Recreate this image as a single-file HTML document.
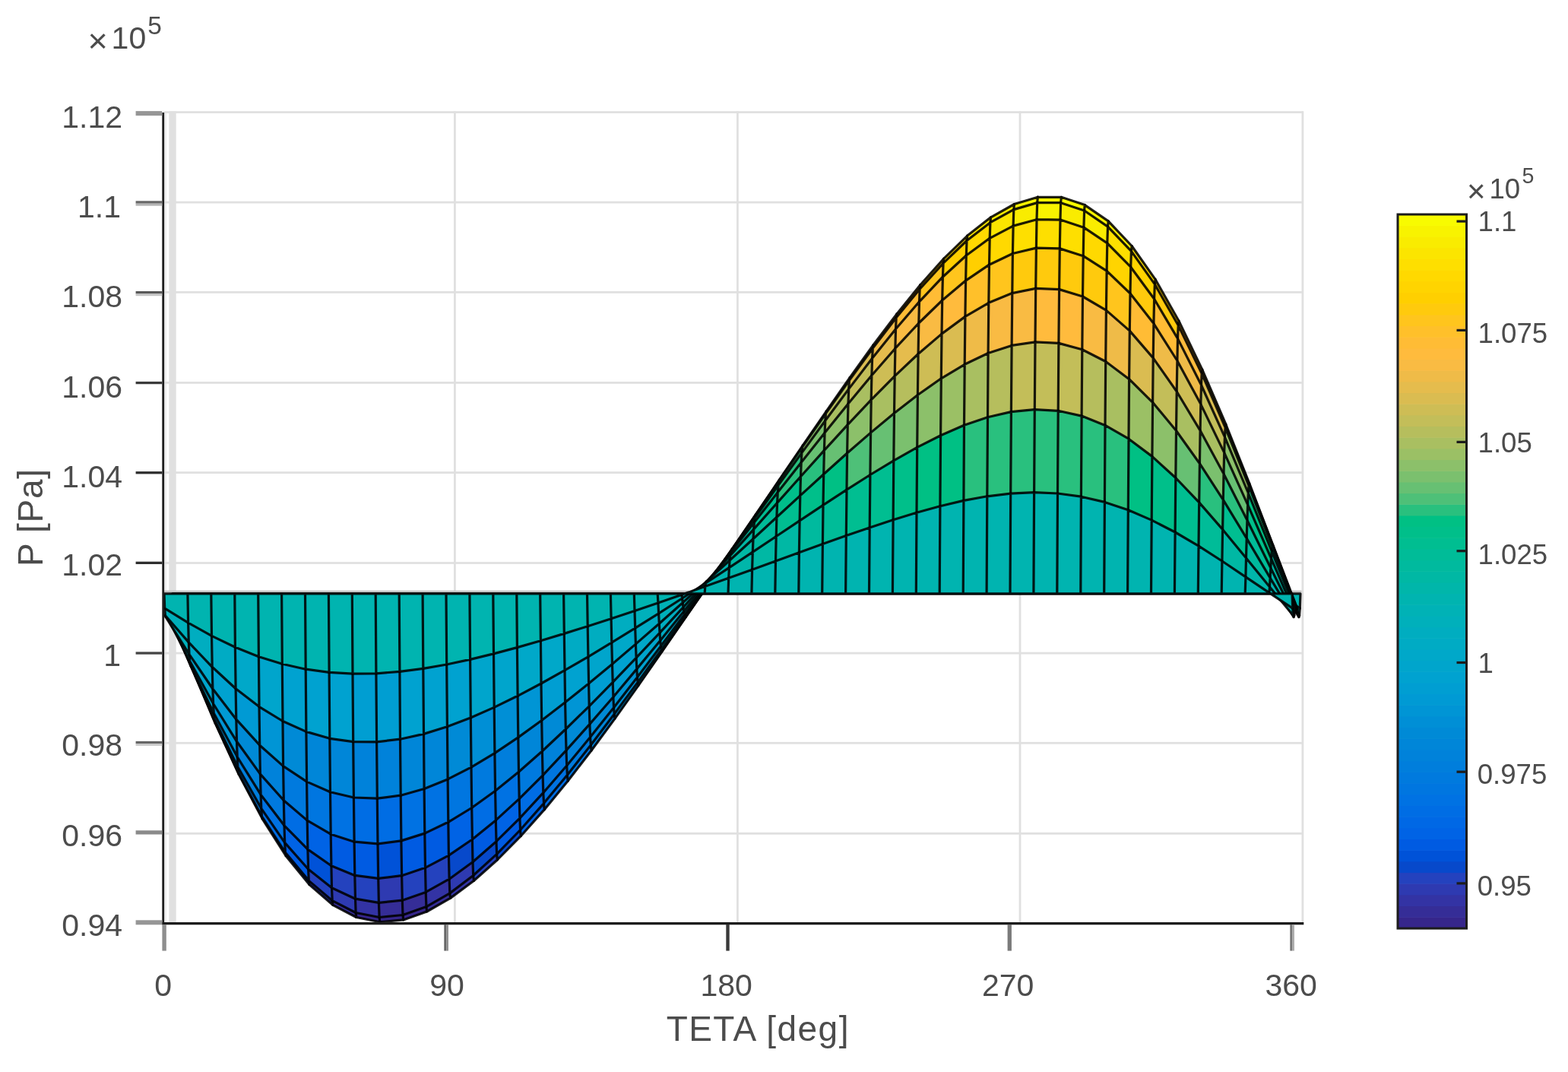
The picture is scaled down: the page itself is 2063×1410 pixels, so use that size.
<!DOCTYPE html>
<html lang="en"><head><meta charset="utf-8"><title>P [Pa] vs TETA [deg]</title>
<style>html,body{margin:0;padding:0;background:#fff}body{width:2063px;height:1410px;overflow:hidden}svg{display:block;filter:blur(0.70px)}text{font-family:"Liberation Sans",Arial,Helvetica,sans-serif;fill:#4c4c4c}</style></head><body>
<svg width="2063" height="1410" viewBox="0 0 2063 1410">
<rect width="2063" height="1410" fill="#fff"/>
<g id="grid">
<rect x="216" y="146.5" width="3" height="1066.5" fill="#ededed"/>
<rect x="222.3" y="146.5" width="9.4" height="1066.5" fill="#e0e0e0"/>
<rect x="216" y="146.2" width="1499" height="2.8" fill="#e0e0e0"/>
<rect x="216" y="264.7" width="1499" height="2.8" fill="#e0e0e0"/>
<rect x="216" y="383.0" width="1499" height="2.8" fill="#e0e0e0"/>
<rect x="216" y="502.0" width="1499" height="2.8" fill="#e0e0e0"/>
<rect x="216" y="620.2" width="1499" height="2.8" fill="#e0e0e0"/>
<rect x="216" y="739.1" width="1499" height="2.8" fill="#e0e0e0"/>
<rect x="216" y="857.7" width="1499" height="2.8" fill="#e0e0e0"/>
<rect x="216" y="975.9" width="1499" height="2.8" fill="#e0e0e0"/>
<rect x="216" y="1094.9" width="1499" height="2.8" fill="#e0e0e0"/>
<rect x="597.0" y="146.5" width="2.8" height="1066.5" fill="#e0e0e0"/>
<rect x="969.0" y="146.5" width="2.8" height="1066.5" fill="#e0e0e0"/>
<rect x="1340.6" y="146.5" width="2.8" height="1066.5" fill="#e0e0e0"/>
<rect x="1712.5" y="146.5" width="2.8" height="1066.5" fill="#e0e0e0"/>
<rect x="216" y="776.6" width="690" height="2.9" fill="#c6c6c6"/>
<rect x="1700" y="776.6" width="12.5" height="2.9" fill="#c6c6c6"/>
</g>
<g id="surf" stroke-linejoin="round" stroke-linecap="round">
<g>
<path d="M226.3 800.1 257.2 819.1 257.9 780.9 227 780.9 Z" fill="#00b0bb"/>
<path d="M257.2 819.1 288.1 836.4 288.8 780.9 257.9 780.9 Z" fill="#00adc0"/>
<path d="M288.1 836.4 319.1 851.3 319.8 780.9 288.8 780.9 Z" fill="#00abc4"/>
<path d="M319.1 851.3 350 863.7 350.7 780.9 319.8 780.9 Z" fill="#00a8c9"/>
<path d="M350 863.7 380.9 873.3 381.6 780.9 350.7 780.9 Z" fill="#00a5cc"/>
<path d="M380.9 873.3 411.8 880.2 412.5 780.9 381.6 780.9 Z" fill="#00a2d0"/>
<path d="M411.8 880.2 442.7 884.4 443.4 780.9 412.5 780.9 Z" fill="#00a2d0"/>
<path d="M442.7 884.4 473.6 886.2 474.3 780.9 443.4 780.9 Z" fill="#00a2d0"/>
<path d="M473.6 886.2 504.6 885.8 505.2 780.9 474.3 780.9 Z" fill="#009ed2"/>
<path d="M504.6 885.8 535.5 883.4 536.2 780.9 505.2 780.9 Z" fill="#009ed2"/>
<path d="M535.5 883.4 566.4 879.4 567.1 780.9 536.2 780.9 Z" fill="#00a2d0"/>
<path d="M566.4 879.4 597.3 874 598 780.9 567.1 780.9 Z" fill="#00a2d0"/>
<path d="M597.3 874 628.2 867.4 628.9 780.9 598 780.9 Z" fill="#00a2d0"/>
<path d="M628.2 867.4 659.1 859.9 659.8 780.9 628.9 780.9 Z" fill="#00a5cc"/>
<path d="M659.1 859.9 690.1 851.6 690.8 780.9 659.8 780.9 Z" fill="#00a5cc"/>
<path d="M690.1 851.6 721 842.7 721.7 780.9 690.8 780.9 Z" fill="#00a8c9"/>
<path d="M721 842.7 751.9 833.4 752.6 780.9 721.7 780.9 Z" fill="#00a8c9"/>
<path d="M751.9 833.4 782.8 823.7 783.5 780.9 752.6 780.9 Z" fill="#00abc4"/>
<path d="M782.8 823.7 813.7 813.7 814.4 780.9 783.5 780.9 Z" fill="#00adc0"/>
<path d="M813.7 813.7 844.6 803.4 845.3 780.9 814.4 780.9 Z" fill="#00adc0"/>
<path d="M844.6 803.4 875.6 792.9 876.2 780.9 845.3 780.9 Z" fill="#00b0bb"/>
<path d="M875.6 792.9 906.5 782.2 907.2 780.9 876.2 780.9 Z" fill="#00b2b6"/>
<path d="M906.5 782.2 937.4 771.3 938.1 780.9 907.2 780.9 Z" fill="#00b2b6"/>
<path d="M937.4 771.3 968.3 760.3 969 780.9 938.1 780.9 Z" fill="#00b4b0"/>
<path d="M968.3 760.3 999.2 749.2 999.9 780.9 969 780.9 Z" fill="#00b6aa"/>
<path d="M999.2 749.2 1030.1 738 1030.8 780.9 999.9 780.9 Z" fill="#00b8a4"/>
<path d="M1030.1 738 1061.1 726.8 1061.8 780.9 1030.8 780.9 Z" fill="#00b8a4"/>
<path d="M1061.1 726.8 1092 715.6 1092.7 780.9 1061.8 780.9 Z" fill="#00ba9e"/>
<path d="M1092 715.6 1122.9 704.6 1123.6 780.9 1092.7 780.9 Z" fill="#00bc98"/>
<path d="M1122.9 704.6 1153.8 693.9 1154.5 780.9 1123.6 780.9 Z" fill="#00be91"/>
<path d="M1153.8 693.9 1184.7 683.7 1185.4 780.9 1154.5 780.9 Z" fill="#00be91"/>
<path d="M1184.7 683.7 1215.6 674.2 1216.3 780.9 1185.4 780.9 Z" fill="#00bf8a"/>
<path d="M1215.6 674.2 1246.6 665.7 1247.2 780.9 1216.3 780.9 Z" fill="#00c084"/>
<path d="M1246.6 665.7 1277.5 658.4 1278.2 780.9 1247.2 780.9 Z" fill="#00c084"/>
<path d="M1277.5 658.4 1308.4 652.8 1309.1 780.9 1278.2 780.9 Z" fill="#29c07e"/>
<path d="M1308.4 652.8 1339.3 649.1 1340 780.9 1309.1 780.9 Z" fill="#29c07e"/>
<path d="M1339.3 649.1 1370.2 647.7 1370.9 780.9 1340 780.9 Z" fill="#29c07e"/>
<path d="M1370.2 647.7 1401.1 649 1401.8 780.9 1370.9 780.9 Z" fill="#29c07e"/>
<path d="M1401.1 649 1432.1 653.2 1432.8 780.9 1401.8 780.9 Z" fill="#29c07e"/>
<path d="M1432.1 653.2 1463 660.4 1463.7 780.9 1432.8 780.9 Z" fill="#29c07e"/>
<path d="M1463 660.4 1493.9 670.8 1494.6 780.9 1463.7 780.9 Z" fill="#29c07e"/>
<path d="M1493.9 670.8 1524.8 684.1 1525.5 780.9 1494.6 780.9 Z" fill="#00c084"/>
<path d="M1524.8 684.1 1555.7 700 1556.4 780.9 1525.5 780.9 Z" fill="#00bf8a"/>
<path d="M1555.7 700 1586.6 718.2 1587.3 780.9 1556.4 780.9 Z" fill="#00be91"/>
<path d="M1586.6 718.2 1617.6 738 1618.2 780.9 1587.3 780.9 Z" fill="#00bc98"/>
<path d="M1617.6 738 1648.5 758.8 1649.2 780.9 1618.2 780.9 Z" fill="#00b8a4"/>
<path d="M1648.5 758.8 1679.4 779.7 1680.1 780.9 1649.2 780.9 Z" fill="#00b6aa"/>
<path d="M1679.4 779.7 1710.3 800.1 1711 780.9 1680.1 780.9 Z" fill="#00b4b0"/>
<path d="M227 780.9 257.9 780.9 288.8 780.9 319.8 780.9 350.7 780.9 381.6 780.9 412.5 780.9 443.4 780.9 474.3 780.9 505.2 780.9 536.2 780.9 567.1 780.9 598 780.9 628.9 780.9 659.8 780.9 690.8 780.9 721.7 780.9 752.6 780.9 783.5 780.9 814.4 780.9 845.3 780.9 876.2 780.9 907.2 780.9 938.1 780.9 969 780.9 999.9 780.9 1030.8 780.9 1061.8 780.9 1092.7 780.9 1123.6 780.9 1154.5 780.9 1185.4 780.9 1216.3 780.9 1247.2 780.9 1278.2 780.9 1309.1 780.9 1340 780.9 1370.9 780.9 1401.8 780.9 1432.8 780.9 1463.7 780.9 1494.6 780.9 1525.5 780.9 1556.4 780.9 1587.3 780.9 1618.2 780.9 1649.2 780.9 1680.1 780.9 1711 780.9 M226.3 800.1 L227 780.9 M257.2 819.1 L257.9 780.9 M288.1 836.4 L288.8 780.9 M319.1 851.3 L319.8 780.9 M350 863.7 L350.7 780.9 M380.9 873.3 L381.6 780.9 M411.8 880.2 L412.5 780.9 M442.7 884.4 L443.4 780.9 M473.6 886.2 L474.3 780.9 M504.6 885.8 L505.2 780.9 M535.5 883.4 L536.2 780.9 M566.4 879.4 L567.1 780.9 M597.3 874 L598 780.9 M628.2 867.4 L628.9 780.9 M659.1 859.9 L659.8 780.9 M690.1 851.6 L690.8 780.9 M721 842.7 L721.7 780.9 M751.9 833.4 L752.6 780.9 M782.8 823.7 L783.5 780.9 M813.7 813.7 L814.4 780.9 M844.6 803.4 L845.3 780.9 M875.6 792.9 L876.2 780.9 M906.5 782.2 L907.2 780.9 M937.4 771.3 L938.1 780.9 M968.3 760.3 L969 780.9 M999.2 749.2 L999.9 780.9 M1030.1 738 L1030.8 780.9 M1061.1 726.8 L1061.8 780.9 M1092 715.6 L1092.7 780.9 M1122.9 704.6 L1123.6 780.9 M1153.8 693.9 L1154.5 780.9 M1184.7 683.7 L1185.4 780.9 M1215.6 674.2 L1216.3 780.9 M1246.6 665.7 L1247.2 780.9 M1277.5 658.4 L1278.2 780.9 M1308.4 652.8 L1309.1 780.9 M1339.3 649.1 L1340 780.9 M1370.2 647.7 L1370.9 780.9 M1401.1 649 L1401.8 780.9 M1432.1 653.2 L1432.8 780.9 M1463 660.4 L1463.7 780.9 M1493.9 670.8 L1494.6 780.9 M1524.8 684.1 L1525.5 780.9 M1555.7 700 L1556.4 780.9 M1586.6 718.2 L1587.3 780.9 M1617.6 738 L1618.2 780.9 M1648.5 758.8 L1649.2 780.9 M1679.4 779.7 L1680.1 780.9 M1710.3 800.1 L1711 780.9" fill="none" stroke="#000" stroke-opacity="0.88" stroke-width="3.2"/>
</g>
<g>
<path d="M225.6 809.5 256.5 844.9 257.2 819.1 226.3 800.1 Z" fill="#00b0bb"/>
<path d="M256.5 844.9 287.5 877.3 288.1 836.4 257.2 819.1 Z" fill="#00a8c9"/>
<path d="M287.5 877.3 318.4 905.8 319.1 851.3 288.1 836.4 Z" fill="#00a2d0"/>
<path d="M318.4 905.8 349.3 929.6 350 863.7 319.1 851.3 Z" fill="#009ad4"/>
<path d="M349.3 929.6 380.2 948.5 380.9 873.3 350 863.7 Z" fill="#0095d5"/>
<path d="M380.2 948.5 411.1 962.4 411.8 880.2 380.9 873.3 Z" fill="#008ad6"/>
<path d="M411.1 962.4 442 971.3 442.7 884.4 411.8 880.2 Z" fill="#0086d8"/>
<path d="M442 971.3 473 975.7 473.6 886.2 442.7 884.4 Z" fill="#0086d8"/>
<path d="M473 975.7 503.9 975.8 504.6 885.8 473.6 886.2 Z" fill="#0082da"/>
<path d="M503.9 975.8 534.8 972.2 535.5 883.4 504.6 885.8 Z" fill="#0082da"/>
<path d="M534.8 972.2 565.7 965.4 566.4 879.4 535.5 883.4 Z" fill="#0086d8"/>
<path d="M565.7 965.4 596.6 955.8 597.3 874 566.4 879.4 Z" fill="#0086d8"/>
<path d="M596.6 955.8 627.5 944 628.2 867.4 597.3 874 Z" fill="#008ad6"/>
<path d="M627.5 944 658.5 930.4 659.1 859.9 628.2 867.4 Z" fill="#008fd6"/>
<path d="M658.5 930.4 689.4 915.3 690.1 851.6 659.1 859.9 Z" fill="#008fd6"/>
<path d="M689.4 915.3 720.3 899 721 842.7 690.1 851.6 Z" fill="#0095d5"/>
<path d="M720.3 899 751.2 881.7 751.9 833.4 721 842.7 Z" fill="#009ed2"/>
<path d="M751.2 881.7 782.1 863.8 782.8 823.7 751.9 833.4 Z" fill="#00a2d0"/>
<path d="M782.1 863.8 813 845.2 813.7 813.7 782.8 823.7 Z" fill="#00a5cc"/>
<path d="M813 845.2 844 826.2 844.6 803.4 813.7 813.7 Z" fill="#00a8c9"/>
<path d="M844 826.2 874.9 806.8 875.6 792.9 844.6 803.4 Z" fill="#00abc4"/>
<path d="M874.9 806.8 905.8 787 906.5 782.2 875.6 792.9 Z" fill="#00b0bb"/>
<path d="M905.8 787 936.7 766.9 937.4 771.3 906.5 782.2 Z" fill="#00b2b6"/>
<path d="M936.7 766.9 967.6 746.6 968.3 760.3 937.4 771.3 Z" fill="#00b4b0"/>
<path d="M967.6 746.6 998.5 726.1 999.2 749.2 968.3 760.3 Z" fill="#00b8a4"/>
<path d="M998.5 726.1 1029.5 705.5 1030.1 738 999.2 749.2 Z" fill="#00ba9e"/>
<path d="M1029.5 705.5 1060.4 684.8 1061.1 726.8 1030.1 738 Z" fill="#00be91"/>
<path d="M1060.4 684.8 1091.3 664.3 1092 715.6 1061.1 726.8 Z" fill="#00bf8a"/>
<path d="M1091.3 664.3 1122.2 644.1 1122.9 704.6 1092 715.6 Z" fill="#00c084"/>
<path d="M1122.2 644.1 1153.1 624.5 1153.8 693.9 1122.9 704.6 Z" fill="#4ec078"/>
<path d="M1153.1 624.5 1184 605.8 1184.7 683.7 1153.8 693.9 Z" fill="#67c073"/>
<path d="M1184 605.8 1215 588.4 1215.6 674.2 1184.7 683.7 Z" fill="#7bc06e"/>
<path d="M1215 588.4 1245.9 572.7 1246.6 665.7 1215.6 674.2 Z" fill="#8cc06a"/>
<path d="M1245.9 572.7 1276.8 559.2 1277.5 658.4 1246.6 665.7 Z" fill="#9bc065"/>
<path d="M1276.8 559.2 1307.7 548.7 1308.4 652.8 1277.5 658.4 Z" fill="#a9bf61"/>
<path d="M1307.7 548.7 1338.6 541.6 1339.3 649.1 1308.4 652.8 Z" fill="#b6be5d"/>
<path d="M1338.6 541.6 1369.5 538.6 1370.2 647.7 1339.3 649.1 Z" fill="#c3be59"/>
<path d="M1369.5 538.6 1400.5 540.3 1401.1 649 1370.2 647.7 Z" fill="#c3be59"/>
<path d="M1400.5 540.3 1431.4 547.1 1432.1 653.2 1401.1 649 Z" fill="#c3be59"/>
<path d="M1431.4 547.1 1462.3 559.4 1463 660.4 1432.1 653.2 Z" fill="#b6be5d"/>
<path d="M1462.3 559.4 1493.2 577.2 1493.9 670.8 1463 660.4 Z" fill="#a9bf61"/>
<path d="M1493.2 577.2 1524.1 600.4 1524.8 684.1 1493.9 670.8 Z" fill="#9bc065"/>
<path d="M1524.1 600.4 1555 628.5 1555.7 700 1524.8 684.1 Z" fill="#8cc06a"/>
<path d="M1555 628.5 1586 660.9 1586.6 718.2 1555.7 700 Z" fill="#67c073"/>
<path d="M1586 660.9 1616.9 696.4 1617.6 738 1586.6 718.2 Z" fill="#29c07e"/>
<path d="M1616.9 696.4 1647.8 733.9 1648.5 758.8 1617.6 738 Z" fill="#00be91"/>
<path d="M1647.8 733.9 1678.7 772 1679.4 779.7 1648.5 758.8 Z" fill="#00ba9e"/>
<path d="M1678.7 772 1709.6 809.5 1710.3 800.1 1679.4 779.7 Z" fill="#00b4b0"/>
<path d="M226.3 800.1 257.2 819.1 288.1 836.4 319.1 851.3 350 863.7 380.9 873.3 411.8 880.2 442.7 884.4 473.6 886.2 504.6 885.8 535.5 883.4 566.4 879.4 597.3 874 628.2 867.4 659.1 859.9 690.1 851.6 721 842.7 751.9 833.4 782.8 823.7 813.7 813.7 844.6 803.4 875.6 792.9 906.5 782.2 937.4 771.3 968.3 760.3 999.2 749.2 1030.1 738 1061.1 726.8 1092 715.6 1122.9 704.6 1153.8 693.9 1184.7 683.7 1215.6 674.2 1246.6 665.7 1277.5 658.4 1308.4 652.8 1339.3 649.1 1370.2 647.7 1401.1 649 1432.1 653.2 1463 660.4 1493.9 670.8 1524.8 684.1 1555.7 700 1586.6 718.2 1617.6 738 1648.5 758.8 1679.4 779.7 1710.3 800.1 M225.6 809.5 L226.3 800.1 M256.5 844.9 L257.2 819.1 M287.5 877.3 L288.1 836.4 M318.4 905.8 L319.1 851.3 M349.3 929.6 L350 863.7 M380.2 948.5 L380.9 873.3 M411.1 962.4 L411.8 880.2 M442 971.3 L442.7 884.4 M473 975.7 L473.6 886.2 M503.9 975.8 L504.6 885.8 M534.8 972.2 L535.5 883.4 M565.7 965.4 L566.4 879.4 M596.6 955.8 L597.3 874 M627.5 944 L628.2 867.4 M658.5 930.4 L659.1 859.9 M689.4 915.3 L690.1 851.6 M720.3 899 L721 842.7 M751.2 881.7 L751.9 833.4 M782.1 863.8 L782.8 823.7 M813 845.2 L813.7 813.7 M844 826.2 L844.6 803.4 M874.9 806.8 L875.6 792.9 M905.8 787 L906.5 782.2 M936.7 766.9 L937.4 771.3 M967.6 746.6 L968.3 760.3 M998.5 726.1 L999.2 749.2 M1029.5 705.5 L1030.1 738 M1060.4 684.8 L1061.1 726.8 M1091.3 664.3 L1092 715.6 M1122.2 644.1 L1122.9 704.6 M1153.1 624.5 L1153.8 693.9 M1184 605.8 L1184.7 683.7 M1215 588.4 L1215.6 674.2 M1245.9 572.7 L1246.6 665.7 M1276.8 559.2 L1277.5 658.4 M1307.7 548.7 L1308.4 652.8 M1338.6 541.6 L1339.3 649.1 M1369.5 538.6 L1370.2 647.7 M1400.5 540.3 L1401.1 649 M1431.4 547.1 L1432.1 653.2 M1462.3 559.4 L1463 660.4 M1493.2 577.2 L1493.9 670.8 M1524.1 600.4 L1524.8 684.1 M1555 628.5 L1555.7 700 M1586 660.9 L1586.6 718.2 M1616.9 696.4 L1617.6 738 M1647.8 733.9 L1648.5 758.8 M1678.7 772 L1679.4 779.7 M1709.6 809.5 L1710.3 800.1" fill="none" stroke="#000" stroke-opacity="0.88" stroke-width="3.2"/>
</g>
<g>
<path d="M224.9 811.6 255.9 860.7 256.5 844.9 225.6 809.5 Z" fill="#00adc0"/>
<path d="M255.9 860.7 286.8 906 287.5 877.3 256.5 844.9 Z" fill="#00a5cc"/>
<path d="M286.8 906 317.7 946.2 318.4 905.8 287.5 877.3 Z" fill="#009ad4"/>
<path d="M317.7 946.2 348.6 980.2 349.3 929.6 318.4 905.8 Z" fill="#008ad6"/>
<path d="M348.6 980.2 379.5 1007.6 380.2 948.5 349.3 929.6 Z" fill="#0082da"/>
<path d="M379.5 1007.6 410.4 1028.1 411.1 962.4 380.2 948.5 Z" fill="#007ade"/>
<path d="M410.4 1028.1 441.4 1041.8 442 971.3 411.1 962.4 Z" fill="#0076e0"/>
<path d="M441.4 1041.8 472.3 1049 473 975.7 442 971.3 Z" fill="#0072e3"/>
<path d="M472.3 1049 503.2 1050.2 503.9 975.8 473 975.7 Z" fill="#006de4"/>
<path d="M503.2 1050.2 534.1 1046.2 534.8 972.2 503.9 975.8 Z" fill="#006de4"/>
<path d="M534.1 1046.2 565 1037.5 565.7 965.4 534.8 972.2 Z" fill="#0072e3"/>
<path d="M565 1037.5 595.9 1024.9 596.6 955.8 565.7 965.4 Z" fill="#0072e3"/>
<path d="M595.9 1024.9 626.9 1009.1 627.5 944 596.6 955.8 Z" fill="#0076e0"/>
<path d="M626.9 1009.1 657.8 990.6 658.5 930.4 627.5 944 Z" fill="#007ade"/>
<path d="M657.8 990.6 688.7 969.9 689.4 915.3 658.5 930.4 Z" fill="#007edc"/>
<path d="M688.7 969.9 719.6 947.5 720.3 899 689.4 915.3 Z" fill="#0086d8"/>
<path d="M719.6 947.5 750.5 923.8 751.2 881.7 720.3 899 Z" fill="#008ad6"/>
<path d="M750.5 923.8 781.4 899 782.1 863.8 751.2 881.7 Z" fill="#0095d5"/>
<path d="M781.4 899 812.4 873.4 813 845.2 782.1 863.8 Z" fill="#009ed2"/>
<path d="M812.4 873.4 843.3 847.1 844 826.2 813 845.2 Z" fill="#00a2d0"/>
<path d="M843.3 847.1 874.2 820.2 874.9 806.8 844 826.2 Z" fill="#00a8c9"/>
<path d="M874.2 820.2 905.1 792.8 905.8 787 874.9 806.8 Z" fill="#00adc0"/>
<path d="M905.1 792.8 936 765.1 936.7 766.9 905.8 787 Z" fill="#00b2b6"/>
<path d="M936 765.1 966.9 737 967.6 746.6 936.7 766.9 Z" fill="#00b6aa"/>
<path d="M966.9 737 997.9 708.7 998.5 726.1 967.6 746.6 Z" fill="#00b8a4"/>
<path d="M997.9 708.7 1028.8 680.3 1029.5 705.5 998.5 726.1 Z" fill="#00bc98"/>
<path d="M1028.8 680.3 1059.7 651.9 1060.4 684.8 1029.5 705.5 Z" fill="#00bf8a"/>
<path d="M1059.7 651.9 1090.6 623.7 1091.3 664.3 1060.4 684.8 Z" fill="#29c07e"/>
<path d="M1090.6 623.7 1121.5 596 1122.2 644.1 1091.3 664.3 Z" fill="#67c073"/>
<path d="M1121.5 596 1152.4 569.1 1153.1 624.5 1122.2 644.1 Z" fill="#8cc06a"/>
<path d="M1152.4 569.1 1183.4 543.4 1184 605.8 1153.1 624.5 Z" fill="#a9bf61"/>
<path d="M1183.4 543.4 1214.3 519.5 1215 588.4 1184 605.8 Z" fill="#b6be5d"/>
<path d="M1214.3 519.5 1245.2 497.8 1245.9 572.7 1215 588.4 Z" fill="#cebd55"/>
<path d="M1245.2 497.8 1276.1 479.3 1276.8 559.2 1245.9 572.7 Z" fill="#dabc51"/>
<path d="M1276.1 479.3 1307 464.5 1307.7 548.7 1276.8 559.2 Z" fill="#efbb48"/>
<path d="M1307 464.5 1337.9 454.4 1338.6 541.6 1307.7 548.7 Z" fill="#f9bb43"/>
<path d="M1337.9 454.4 1368.9 449.8 1369.5 538.6 1338.6 541.6 Z" fill="#f9bb43"/>
<path d="M1368.9 449.8 1399.8 451.4 1400.5 540.3 1369.5 538.6 Z" fill="#ffbb3d"/>
<path d="M1399.8 451.4 1430.7 459.8 1431.4 547.1 1400.5 540.3 Z" fill="#ffbb3d"/>
<path d="M1430.7 459.8 1461.6 475.5 1462.3 559.4 1431.4 547.1 Z" fill="#f9bb43"/>
<path d="M1461.6 475.5 1492.5 498.7 1493.2 577.2 1462.3 559.4 Z" fill="#efbb48"/>
<path d="M1492.5 498.7 1523.4 529.3 1524.1 600.4 1493.2 577.2 Z" fill="#dabc51"/>
<path d="M1523.4 529.3 1554.4 566.5 1555 628.5 1524.1 600.4 Z" fill="#c3be59"/>
<path d="M1554.4 566.5 1585.3 609.7 1586 660.9 1555 628.5 Z" fill="#a9bf61"/>
<path d="M1585.3 609.7 1616.2 657.4 1616.9 696.4 1586 660.9 Z" fill="#7bc06e"/>
<path d="M1616.2 657.4 1647.1 708.1 1647.8 733.9 1616.9 696.4 Z" fill="#29c07e"/>
<path d="M1647.1 708.1 1678 760.1 1678.7 772 1647.8 733.9 Z" fill="#00bc98"/>
<path d="M1678 760.1 1708.9 811.6 1709.6 809.5 1678.7 772 Z" fill="#00b6aa"/>
<path d="M225.6 809.5 256.5 844.9 287.5 877.3 318.4 905.8 349.3 929.6 380.2 948.5 411.1 962.4 442 971.3 473 975.7 503.9 975.8 534.8 972.2 565.7 965.4 596.6 955.8 627.5 944 658.5 930.4 689.4 915.3 720.3 899 751.2 881.7 782.1 863.8 813 845.2 844 826.2 874.9 806.8 905.8 787 936.7 766.9 967.6 746.6 998.5 726.1 1029.5 705.5 1060.4 684.8 1091.3 664.3 1122.2 644.1 1153.1 624.5 1184 605.8 1215 588.4 1245.9 572.7 1276.8 559.2 1307.7 548.7 1338.6 541.6 1369.5 538.6 1400.5 540.3 1431.4 547.1 1462.3 559.4 1493.2 577.2 1524.1 600.4 1555 628.5 1586 660.9 1616.9 696.4 1647.8 733.9 1678.7 772 1709.6 809.5 M224.9 811.6 L225.6 809.5 M255.9 860.7 L256.5 844.9 M286.8 906 L287.5 877.3 M317.7 946.2 L318.4 905.8 M348.6 980.2 L349.3 929.6 M379.5 1007.6 L380.2 948.5 M410.4 1028.1 L411.1 962.4 M441.4 1041.8 L442 971.3 M472.3 1049 L473 975.7 M503.2 1050.2 L503.9 975.8 M534.1 1046.2 L534.8 972.2 M565 1037.5 L565.7 965.4 M595.9 1024.9 L596.6 955.8 M626.9 1009.1 L627.5 944 M657.8 990.6 L658.5 930.4 M688.7 969.9 L689.4 915.3 M719.6 947.5 L720.3 899 M750.5 923.8 L751.2 881.7 M781.4 899 L782.1 863.8 M812.4 873.4 L813 845.2 M843.3 847.1 L844 826.2 M874.2 820.2 L874.9 806.8 M905.1 792.8 L905.8 787 M936 765.1 L936.7 766.9 M966.9 737 L967.6 746.6 M997.9 708.7 L998.5 726.1 M1028.8 680.3 L1029.5 705.5 M1059.7 651.9 L1060.4 684.8 M1090.6 623.7 L1091.3 664.3 M1121.5 596 L1122.2 644.1 M1152.4 569.1 L1153.1 624.5 M1183.4 543.4 L1184 605.8 M1214.3 519.5 L1215 588.4 M1245.2 497.8 L1245.9 572.7 M1276.1 479.3 L1276.8 559.2 M1307 464.5 L1307.7 548.7 M1337.9 454.4 L1338.6 541.6 M1368.9 449.8 L1369.5 538.6 M1399.8 451.4 L1400.5 540.3 M1430.7 459.8 L1431.4 547.1 M1461.6 475.5 L1462.3 559.4 M1492.5 498.7 L1493.2 577.2 M1523.4 529.3 L1524.1 600.4 M1554.4 566.5 L1555 628.5 M1585.3 609.7 L1586 660.9 M1616.2 657.4 L1616.9 696.4 M1647.1 708.1 L1647.8 733.9 M1678 760.1 L1678.7 772 M1708.9 811.6 L1709.6 809.5" fill="none" stroke="#000" stroke-opacity="0.88" stroke-width="3.2"/>
</g>
<g>
<path d="M224.2 809.5 255.2 869.6 255.9 860.7 224.9 811.6 Z" fill="#00b0bb"/>
<path d="M255.2 869.6 286.1 925.5 286.8 906 255.9 860.7 Z" fill="#00a5cc"/>
<path d="M286.1 925.5 317 975.3 317.7 946.2 286.8 906 Z" fill="#0095d5"/>
<path d="M317 975.3 347.9 1018.1 348.6 980.2 317.7 946.2 Z" fill="#0082da"/>
<path d="M347.9 1018.1 378.8 1052.8 379.5 1007.6 348.6 980.2 Z" fill="#007ade"/>
<path d="M378.8 1052.8 409.8 1079.1 410.4 1028.1 379.5 1007.6 Z" fill="#006de4"/>
<path d="M409.8 1079.1 440.7 1097.2 441.4 1041.8 410.4 1028.1 Z" fill="#0063e5"/>
<path d="M440.7 1097.2 471.6 1107.2 472.3 1049 441.4 1041.8 Z" fill="#005be2"/>
<path d="M471.6 1107.2 502.5 1109.9 503.2 1050.2 472.3 1049 Z" fill="#005be2"/>
<path d="M502.5 1109.9 533.4 1105.9 534.1 1046.2 503.2 1050.2 Z" fill="#0052d8"/>
<path d="M533.4 1105.9 564.3 1096.1 565 1037.5 534.1 1046.2 Z" fill="#005be2"/>
<path d="M564.3 1096.1 595.2 1081.5 595.9 1024.9 565 1037.5 Z" fill="#005be2"/>
<path d="M595.2 1081.5 626.2 1063 626.9 1009.1 595.9 1024.9 Z" fill="#0063e5"/>
<path d="M626.2 1063 657.1 1041.2 657.8 990.6 626.9 1009.1 Z" fill="#006de4"/>
<path d="M657.1 1041.2 688 1016.7 688.7 969.9 657.8 990.6 Z" fill="#0072e3"/>
<path d="M688 1016.7 718.9 989.8 719.6 947.5 688.7 969.9 Z" fill="#007ade"/>
<path d="M718.9 989.8 749.8 961 750.5 923.8 719.6 947.5 Z" fill="#0082da"/>
<path d="M749.8 961 780.8 930.6 781.4 899 750.5 923.8 Z" fill="#008ad6"/>
<path d="M780.8 930.6 811.7 898.9 812.4 873.4 781.4 899 Z" fill="#0095d5"/>
<path d="M811.7 898.9 842.6 866.2 843.3 847.1 812.4 873.4 Z" fill="#009ed2"/>
<path d="M842.6 866.2 873.5 832.8 874.2 820.2 843.3 847.1 Z" fill="#00a5cc"/>
<path d="M873.5 832.8 904.4 799 905.1 792.8 874.2 820.2 Z" fill="#00abc4"/>
<path d="M904.4 799 935.3 764.9 936 765.1 905.1 792.8 Z" fill="#00b0bb"/>
<path d="M935.3 764.9 966.2 730.6 966.9 737 936 765.1 Z" fill="#00b6aa"/>
<path d="M966.2 730.6 997.2 696.1 997.9 708.7 966.9 737 Z" fill="#00ba9e"/>
<path d="M997.2 696.1 1028.1 661.4 1028.8 680.3 997.9 708.7 Z" fill="#00be91"/>
<path d="M1028.1 661.4 1059 626.8 1059.7 651.9 1028.8 680.3 Z" fill="#29c07e"/>
<path d="M1059 626.8 1089.9 592.4 1090.6 623.7 1059.7 651.9 Z" fill="#67c073"/>
<path d="M1089.9 592.4 1120.8 558.7 1121.5 596 1090.6 623.7 Z" fill="#8cc06a"/>
<path d="M1120.8 558.7 1151.8 525.9 1152.4 569.1 1121.5 596 Z" fill="#a9bf61"/>
<path d="M1151.8 525.9 1182.7 494.7 1183.4 543.4 1152.4 569.1 Z" fill="#cebd55"/>
<path d="M1182.7 494.7 1213.6 465.5 1214.3 519.5 1183.4 543.4 Z" fill="#e5bc4d"/>
<path d="M1213.6 465.5 1244.5 439.1 1245.2 497.8 1214.3 519.5 Z" fill="#f9bb43"/>
<path d="M1244.5 439.1 1275.4 416.4 1276.1 479.3 1245.2 497.8 Z" fill="#ffbb3d"/>
<path d="M1275.4 416.4 1306.3 398.3 1307 464.5 1276.1 479.3 Z" fill="#ffc02a"/>
<path d="M1306.3 398.3 1337.2 385.6 1337.9 454.4 1307 464.5 Z" fill="#ffc51d"/>
<path d="M1337.2 385.6 1368.2 379.4 1368.9 449.8 1337.9 454.4 Z" fill="#ffca0d"/>
<path d="M1368.2 379.4 1399.1 380.6 1399.8 451.4 1368.9 449.8 Z" fill="#ffca0d"/>
<path d="M1399.1 380.6 1430 390 1430.7 459.8 1399.8 451.4 Z" fill="#ffca0d"/>
<path d="M1430 390 1460.9 408.1 1461.6 475.5 1430.7 459.8 Z" fill="#ffca0d"/>
<path d="M1460.9 408.1 1491.8 435.1 1492.5 498.7 1461.6 475.5 Z" fill="#ffc51d"/>
<path d="M1491.8 435.1 1522.8 470.9 1523.4 529.3 1492.5 498.7 Z" fill="#ffbc35"/>
<path d="M1522.8 470.9 1553.7 515 1554.4 566.5 1523.4 529.3 Z" fill="#efbb48"/>
<path d="M1553.7 515 1584.6 566.3 1585.3 609.7 1554.4 566.5 Z" fill="#cebd55"/>
<path d="M1584.6 566.3 1615.5 623.2 1616.2 657.4 1585.3 609.7 Z" fill="#a9bf61"/>
<path d="M1615.5 623.2 1646.4 684.2 1647.1 708.1 1616.2 657.4 Z" fill="#67c073"/>
<path d="M1646.4 684.2 1677.3 747 1678 760.1 1647.1 708.1 Z" fill="#00bf8a"/>
<path d="M1677.3 747 1708.2 809.5 1708.9 811.6 1678 760.1 Z" fill="#00b8a4"/>
<path d="M224.9 811.6 255.9 860.7 286.8 906 317.7 946.2 348.6 980.2 379.5 1007.6 410.4 1028.1 441.4 1041.8 472.3 1049 503.2 1050.2 534.1 1046.2 565 1037.5 595.9 1024.9 626.9 1009.1 657.8 990.6 688.7 969.9 719.6 947.5 750.5 923.8 781.4 899 812.4 873.4 843.3 847.1 874.2 820.2 905.1 792.8 936 765.1 966.9 737 997.9 708.7 1028.8 680.3 1059.7 651.9 1090.6 623.7 1121.5 596 1152.4 569.1 1183.4 543.4 1214.3 519.5 1245.2 497.8 1276.1 479.3 1307 464.5 1337.9 454.4 1368.9 449.8 1399.8 451.4 1430.7 459.8 1461.6 475.5 1492.5 498.7 1523.4 529.3 1554.4 566.5 1585.3 609.7 1616.2 657.4 1647.1 708.1 1678 760.1 1708.9 811.6 M224.2 809.5 L224.9 811.6 M255.2 869.6 L255.9 860.7 M286.1 925.5 L286.8 906 M317 975.3 L317.7 946.2 M347.9 1018.1 L348.6 980.2 M378.8 1052.8 L379.5 1007.6 M409.8 1079.1 L410.4 1028.1 M440.7 1097.2 L441.4 1041.8 M471.6 1107.2 L472.3 1049 M502.5 1109.9 L503.2 1050.2 M533.4 1105.9 L534.1 1046.2 M564.3 1096.1 L565 1037.5 M595.2 1081.5 L595.9 1024.9 M626.2 1063 L626.9 1009.1 M657.1 1041.2 L657.8 990.6 M688 1016.7 L688.7 969.9 M718.9 989.8 L719.6 947.5 M749.8 961 L750.5 923.8 M780.8 930.6 L781.4 899 M811.7 898.9 L812.4 873.4 M842.6 866.2 L843.3 847.1 M873.5 832.8 L874.2 820.2 M904.4 799 L905.1 792.8 M935.3 764.9 L936 765.1 M966.2 730.6 L966.9 737 M997.2 696.1 L997.9 708.7 M1028.1 661.4 L1028.8 680.3 M1059 626.8 L1059.7 651.9 M1089.9 592.4 L1090.6 623.7 M1120.8 558.7 L1121.5 596 M1151.8 525.9 L1152.4 569.1 M1182.7 494.7 L1183.4 543.4 M1213.6 465.5 L1214.3 519.5 M1244.5 439.1 L1245.2 497.8 M1275.4 416.4 L1276.1 479.3 M1306.3 398.3 L1307 464.5 M1337.2 385.6 L1337.9 454.4 M1368.2 379.4 L1368.9 449.8 M1399.1 380.6 L1399.8 451.4 M1430 390 L1430.7 459.8 M1460.9 408.1 L1461.6 475.5 M1491.8 435.1 L1492.5 498.7 M1522.8 470.9 L1523.4 529.3 M1553.7 515 L1554.4 566.5 M1584.6 566.3 L1585.3 609.7 M1615.5 623.2 L1616.2 657.4 M1646.4 684.2 L1647.1 708.1 M1677.3 747 L1678 760.1 M1708.2 809.5 L1708.9 811.6" fill="none" stroke="#000" stroke-opacity="0.88" stroke-width="3.2"/>
</g>
<g>
<path d="M223.6 805.6 254.5 874.1 255.2 869.6 224.2 809.5 Z" fill="#00b0bb"/>
<path d="M254.5 874.1 285.4 938.1 286.1 925.5 255.2 869.6 Z" fill="#00a2d0"/>
<path d="M285.4 938.1 316.3 995.6 317 975.3 286.1 925.5 Z" fill="#008fd6"/>
<path d="M316.3 995.6 347.2 1045.2 347.9 1018.1 317 975.3 Z" fill="#007edc"/>
<path d="M347.2 1045.2 378.1 1085.8 378.8 1052.8 347.9 1018.1 Z" fill="#0072e3"/>
<path d="M378.1 1085.8 409.1 1117.1 409.8 1079.1 378.8 1052.8 Z" fill="#0063e5"/>
<path d="M409.1 1117.1 440 1138.8 440.7 1097.2 409.8 1079.1 Z" fill="#0052d8"/>
<path d="M440 1138.8 470.9 1151.4 471.6 1107.2 440.7 1097.2 Z" fill="#2442be"/>
<path d="M470.9 1151.4 501.8 1155.4 502.5 1109.9 471.6 1107.2 Z" fill="#2442be"/>
<path d="M501.8 1155.4 532.7 1151.7 533.4 1105.9 502.5 1109.9 Z" fill="#2e3ab1"/>
<path d="M532.7 1151.7 563.6 1141.3 564.3 1096.1 533.4 1105.9 Z" fill="#2442be"/>
<path d="M563.6 1141.3 594.6 1125.4 595.2 1081.5 564.3 1096.1 Z" fill="#2442be"/>
<path d="M594.6 1125.4 625.5 1105 626.2 1063 595.2 1081.5 Z" fill="#0749cb"/>
<path d="M625.5 1105 656.4 1080.9 657.1 1041.2 626.2 1063 Z" fill="#005be2"/>
<path d="M656.4 1080.9 687.3 1053.6 688 1016.7 657.1 1041.2 Z" fill="#0063e5"/>
<path d="M687.3 1053.6 718.2 1023.5 718.9 989.8 688 1016.7 Z" fill="#006de4"/>
<path d="M718.2 1023.5 749.1 990.9 749.8 961 718.9 989.8 Z" fill="#0076e0"/>
<path d="M749.1 990.9 780.1 956.1 780.8 930.6 749.8 961 Z" fill="#0082da"/>
<path d="M780.1 956.1 811 919.7 811.7 898.9 780.8 930.6 Z" fill="#008ad6"/>
<path d="M811 919.7 841.9 881.9 842.6 866.2 811.7 898.9 Z" fill="#0095d5"/>
<path d="M841.9 881.9 872.8 843.4 873.5 832.8 842.6 866.2 Z" fill="#00a2d0"/>
<path d="M872.8 843.4 903.7 804.5 904.4 799 873.5 832.8 Z" fill="#00a8c9"/>
<path d="M903.7 804.5 934.6 765.5 935.3 764.9 904.4 799 Z" fill="#00b0bb"/>
<path d="M934.6 765.5 965.6 726.5 966.2 730.6 935.3 764.9 Z" fill="#00b6aa"/>
<path d="M965.6 726.5 996.5 687.1 997.2 696.1 966.2 730.6 Z" fill="#00ba9e"/>
<path d="M996.5 687.1 1027.4 647.6 1028.1 661.4 997.2 696.1 Z" fill="#00bf8a"/>
<path d="M1027.4 647.6 1058.3 608.3 1059 626.8 1028.1 661.4 Z" fill="#29c07e"/>
<path d="M1058.3 608.3 1089.2 569.2 1089.9 592.4 1059 626.8 Z" fill="#7bc06e"/>
<path d="M1089.2 569.2 1120.1 530.9 1120.8 558.7 1089.9 592.4 Z" fill="#a9bf61"/>
<path d="M1120.1 530.9 1151.1 493.7 1151.8 525.9 1120.8 558.7 Z" fill="#c3be59"/>
<path d="M1151.1 493.7 1182 458.2 1182.7 494.7 1151.8 525.9 Z" fill="#e5bc4d"/>
<path d="M1182 458.2 1212.9 425 1213.6 465.5 1182.7 494.7 Z" fill="#f9bb43"/>
<path d="M1212.9 425 1243.8 395 1244.5 439.1 1213.6 465.5 Z" fill="#ffbc35"/>
<path d="M1243.8 395 1274.7 369.1 1275.4 416.4 1244.5 439.1 Z" fill="#ffc51d"/>
<path d="M1274.7 369.1 1305.6 348.2 1306.3 398.3 1275.4 416.4 Z" fill="#ffcf00"/>
<path d="M1305.6 348.2 1336.6 333.5 1337.2 385.6 1306.3 398.3 Z" fill="#ffd900"/>
<path d="M1336.6 333.5 1367.5 326.1 1368.2 379.4 1337.2 385.6 Z" fill="#fedf00"/>
<path d="M1367.5 326.1 1398.4 326.9 1399.1 380.6 1368.2 379.4 Z" fill="#fedf00"/>
<path d="M1398.4 326.9 1429.3 336.7 1430 390 1399.1 380.6 Z" fill="#fedf00"/>
<path d="M1429.3 336.7 1460.2 356.4 1460.9 408.1 1430 390 Z" fill="#ffd900"/>
<path d="M1460.2 356.4 1491.1 386 1491.8 435.1 1460.9 408.1 Z" fill="#ffd400"/>
<path d="M1491.1 386 1522.1 425.6 1522.8 470.9 1491.8 435.1 Z" fill="#ffca0d"/>
<path d="M1522.1 425.6 1553 474.5 1553.7 515 1522.8 470.9 Z" fill="#ffbc35"/>
<path d="M1553 474.5 1583.9 531.6 1584.6 566.3 1553.7 515 Z" fill="#efbb48"/>
<path d="M1583.9 531.6 1614.8 595.4 1615.5 623.2 1584.6 566.3 Z" fill="#c3be59"/>
<path d="M1614.8 595.4 1645.7 663.8 1646.4 684.2 1615.5 623.2 Z" fill="#8cc06a"/>
<path d="M1645.7 663.8 1676.6 734.7 1677.3 747 1646.4 684.2 Z" fill="#00c084"/>
<path d="M1676.6 734.7 1707.6 805.6 1708.2 809.5 1677.3 747 Z" fill="#00ba9e"/>
<path d="M224.2 809.5 255.2 869.6 286.1 925.5 317 975.3 347.9 1018.1 378.8 1052.8 409.8 1079.1 440.7 1097.2 471.6 1107.2 502.5 1109.9 533.4 1105.9 564.3 1096.1 595.2 1081.5 626.2 1063 657.1 1041.2 688 1016.7 718.9 989.8 749.8 961 780.8 930.6 811.7 898.9 842.6 866.2 873.5 832.8 904.4 799 935.3 764.9 966.2 730.6 997.2 696.1 1028.1 661.4 1059 626.8 1089.9 592.4 1120.8 558.7 1151.8 525.9 1182.7 494.7 1213.6 465.5 1244.5 439.1 1275.4 416.4 1306.3 398.3 1337.2 385.6 1368.2 379.4 1399.1 380.6 1430 390 1460.9 408.1 1491.8 435.1 1522.8 470.9 1553.7 515 1584.6 566.3 1615.5 623.2 1646.4 684.2 1677.3 747 1708.2 809.5 M223.6 805.6 L224.2 809.5 M254.5 874.1 L255.2 869.6 M285.4 938.1 L286.1 925.5 M316.3 995.6 L317 975.3 M347.2 1045.2 L347.9 1018.1 M378.1 1085.8 L378.8 1052.8 M409.1 1117.1 L409.8 1079.1 M440 1138.8 L440.7 1097.2 M470.9 1151.4 L471.6 1107.2 M501.8 1155.4 L502.5 1109.9 M532.7 1151.7 L533.4 1105.9 M563.6 1141.3 L564.3 1096.1 M594.6 1125.4 L595.2 1081.5 M625.5 1105 L626.2 1063 M656.4 1080.9 L657.1 1041.2 M687.3 1053.6 L688 1016.7 M718.2 1023.5 L718.9 989.8 M749.1 990.9 L749.8 961 M780.1 956.1 L780.8 930.6 M811 919.7 L811.7 898.9 M841.9 881.9 L842.6 866.2 M872.8 843.4 L873.5 832.8 M903.7 804.5 L904.4 799 M934.6 765.5 L935.3 764.9 M965.6 726.5 L966.2 730.6 M996.5 687.1 L997.2 696.1 M1027.4 647.6 L1028.1 661.4 M1058.3 608.3 L1059 626.8 M1089.2 569.2 L1089.9 592.4 M1120.1 530.9 L1120.8 558.7 M1151.1 493.7 L1151.8 525.9 M1182 458.2 L1182.7 494.7 M1212.9 425 L1213.6 465.5 M1243.8 395 L1244.5 439.1 M1274.7 369.1 L1275.4 416.4 M1305.6 348.2 L1306.3 398.3 M1336.6 333.5 L1337.2 385.6 M1367.5 326.1 L1368.2 379.4 M1398.4 326.9 L1399.1 380.6 M1429.3 336.7 L1430 390 M1460.2 356.4 L1460.9 408.1 M1491.1 386 L1491.8 435.1 M1522.1 425.6 L1522.8 470.9 M1553 474.5 L1553.7 515 M1583.9 531.6 L1584.6 566.3 M1614.8 595.4 L1615.5 623.2 M1645.7 663.8 L1646.4 684.2 M1676.6 734.7 L1677.3 747 M1707.6 805.6 L1708.2 809.5" fill="none" stroke="#000" stroke-opacity="0.88" stroke-width="3.2"/>
</g>
<g>
<path d="M222.9 801.6 253.8 876.1 254.5 874.1 223.6 805.6 Z" fill="#00b0bb"/>
<path d="M253.8 876.1 284.7 945.8 285.4 938.1 254.5 874.1 Z" fill="#00a2d0"/>
<path d="M284.7 945.8 315.6 1008.8 316.3 995.6 285.4 938.1 Z" fill="#008ad6"/>
<path d="M315.6 1008.8 346.5 1063.4 347.2 1045.2 316.3 995.6 Z" fill="#007ade"/>
<path d="M346.5 1063.4 377.5 1108.4 378.1 1085.8 347.2 1045.2 Z" fill="#006de4"/>
<path d="M377.5 1108.4 408.4 1143.2 409.1 1117.1 378.1 1085.8 Z" fill="#005be2"/>
<path d="M408.4 1143.2 439.3 1167.7 440 1138.8 409.1 1117.1 Z" fill="#2442be"/>
<path d="M439.3 1167.7 470.2 1182.2 470.9 1151.4 440 1138.8 Z" fill="#2e3ab1"/>
<path d="M470.2 1182.2 501.1 1187.4 501.8 1155.4 470.9 1151.4 Z" fill="#3333a4"/>
<path d="M501.1 1187.4 532 1184.2 532.7 1151.7 501.8 1155.4 Z" fill="#352d97"/>
<path d="M532 1184.2 563 1173.4 563.6 1141.3 532.7 1151.7 Z" fill="#352d97"/>
<path d="M563 1173.4 593.9 1156.5 594.6 1125.4 563.6 1141.3 Z" fill="#3333a4"/>
<path d="M593.9 1156.5 624.8 1134.7 625.5 1105 594.6 1125.4 Z" fill="#2e3ab1"/>
<path d="M624.8 1134.7 655.7 1108.7 656.4 1080.9 625.5 1105 Z" fill="#0749cb"/>
<path d="M655.7 1108.7 686.6 1079.2 687.3 1053.6 656.4 1080.9 Z" fill="#005be2"/>
<path d="M686.6 1079.2 717.5 1046.5 718.2 1023.5 687.3 1053.6 Z" fill="#0068e5"/>
<path d="M717.5 1046.5 748.5 1011 749.1 990.9 718.2 1023.5 Z" fill="#0072e3"/>
<path d="M748.5 1011 779.4 973.3 780.1 956.1 749.1 990.9 Z" fill="#007ade"/>
<path d="M779.4 973.3 810.3 933.7 811 919.7 780.1 956.1 Z" fill="#0086d8"/>
<path d="M810.3 933.7 841.2 892.8 841.9 881.9 811 919.7 Z" fill="#008fd6"/>
<path d="M841.2 892.8 872.1 851 872.8 843.4 841.9 881.9 Z" fill="#009ed2"/>
<path d="M872.1 851 903 808.7 903.7 804.5 872.8 843.4 Z" fill="#00a8c9"/>
<path d="M903 808.7 934 766.4 934.6 765.5 903.7 804.5 Z" fill="#00b0bb"/>
<path d="M934 766.4 964.9 723.9 965.6 726.5 934.6 765.5 Z" fill="#00b4b0"/>
<path d="M964.9 723.9 995.8 681.2 996.5 687.1 965.6 726.5 Z" fill="#00ba9e"/>
<path d="M995.8 681.2 1026.7 638.3 1027.4 647.6 996.5 687.1 Z" fill="#00bf8a"/>
<path d="M1026.7 638.3 1057.6 595.6 1058.3 608.3 1027.4 647.6 Z" fill="#4ec078"/>
<path d="M1057.6 595.6 1088.5 553.2 1089.2 569.2 1058.3 608.3 Z" fill="#8cc06a"/>
<path d="M1088.5 553.2 1119.5 511.6 1120.1 530.9 1089.2 569.2 Z" fill="#b6be5d"/>
<path d="M1119.5 511.6 1150.4 471.3 1151.1 493.7 1120.1 530.9 Z" fill="#dabc51"/>
<path d="M1150.4 471.3 1181.3 432.8 1182 458.2 1151.1 493.7 Z" fill="#efbb48"/>
<path d="M1181.3 432.8 1212.2 396.8 1212.9 425 1182 458.2 Z" fill="#ffbc35"/>
<path d="M1212.2 396.8 1243.1 364.2 1243.8 395 1212.9 425 Z" fill="#ffc51d"/>
<path d="M1243.1 364.2 1274 336 1274.7 369.1 1243.8 395 Z" fill="#ffcf00"/>
<path d="M1274 336 1305 313.3 1305.6 348.2 1274.7 369.1 Z" fill="#ffd900"/>
<path d="M1305 313.3 1335.9 297.1 1336.6 333.5 1305.6 348.2 Z" fill="#fbe500"/>
<path d="M1335.9 297.1 1366.8 288.7 1367.5 326.1 1336.6 333.5 Z" fill="#f9ec00"/>
<path d="M1366.8 288.7 1397.7 289.1 1398.4 326.9 1367.5 326.1 Z" fill="#f8f300"/>
<path d="M1397.7 289.1 1428.6 299.2 1429.3 336.7 1398.4 326.9 Z" fill="#f9ec00"/>
<path d="M1428.6 299.2 1459.5 319.8 1460.2 356.4 1429.3 336.7 Z" fill="#f9ec00"/>
<path d="M1459.5 319.8 1490.5 351.2 1491.1 386 1460.2 356.4 Z" fill="#fedf00"/>
<path d="M1490.5 351.2 1521.4 393.3 1522.1 425.6 1491.1 386 Z" fill="#ffd400"/>
<path d="M1521.4 393.3 1552.3 445.4 1553 474.5 1522.1 425.6 Z" fill="#ffca0d"/>
<path d="M1552.3 445.4 1583.2 506.5 1583.9 531.6 1553 474.5 Z" fill="#ffbb3d"/>
<path d="M1583.2 506.5 1614.1 574.8 1614.8 595.4 1583.9 531.6 Z" fill="#dabc51"/>
<path d="M1614.1 574.8 1645 648.5 1645.7 663.8 1614.8 595.4 Z" fill="#9bc065"/>
<path d="M1645 648.5 1676 724.9 1676.6 734.7 1645.7 663.8 Z" fill="#29c07e"/>
<path d="M1676 724.9 1706.9 801.6 1707.6 805.6 1676.6 734.7 Z" fill="#00ba9e"/>
<path d="M223.6 805.6 254.5 874.1 285.4 938.1 316.3 995.6 347.2 1045.2 378.1 1085.8 409.1 1117.1 440 1138.8 470.9 1151.4 501.8 1155.4 532.7 1151.7 563.6 1141.3 594.6 1125.4 625.5 1105 656.4 1080.9 687.3 1053.6 718.2 1023.5 749.1 990.9 780.1 956.1 811 919.7 841.9 881.9 872.8 843.4 903.7 804.5 934.6 765.5 965.6 726.5 996.5 687.1 1027.4 647.6 1058.3 608.3 1089.2 569.2 1120.1 530.9 1151.1 493.7 1182 458.2 1212.9 425 1243.8 395 1274.7 369.1 1305.6 348.2 1336.6 333.5 1367.5 326.1 1398.4 326.9 1429.3 336.7 1460.2 356.4 1491.1 386 1522.1 425.6 1553 474.5 1583.9 531.6 1614.8 595.4 1645.7 663.8 1676.6 734.7 1707.6 805.6 M222.9 801.6 L223.6 805.6 M253.8 876.1 L254.5 874.1 M284.7 945.8 L285.4 938.1 M315.6 1008.8 L316.3 995.6 M346.5 1063.4 L347.2 1045.2 M377.5 1108.4 L378.1 1085.8 M408.4 1143.2 L409.1 1117.1 M439.3 1167.7 L440 1138.8 M470.2 1182.2 L470.9 1151.4 M501.1 1187.4 L501.8 1155.4 M532 1184.2 L532.7 1151.7 M563 1173.4 L563.6 1141.3 M593.9 1156.5 L594.6 1125.4 M624.8 1134.7 L625.5 1105 M655.7 1108.7 L656.4 1080.9 M686.6 1079.2 L687.3 1053.6 M717.5 1046.5 L718.2 1023.5 M748.5 1011 L749.1 990.9 M779.4 973.3 L780.1 956.1 M810.3 933.7 L811 919.7 M841.2 892.8 L841.9 881.9 M872.1 851 L872.8 843.4 M903 808.7 L903.7 804.5 M934 766.4 L934.6 765.5 M964.9 723.9 L965.6 726.5 M995.8 681.2 L996.5 687.1 M1026.7 638.3 L1027.4 647.6 M1057.6 595.6 L1058.3 608.3 M1088.5 553.2 L1089.2 569.2 M1119.5 511.6 L1120.1 530.9 M1150.4 471.3 L1151.1 493.7 M1181.3 432.8 L1182 458.2 M1212.2 396.8 L1212.9 425 M1243.1 364.2 L1243.8 395 M1274 336 L1274.7 369.1 M1305 313.3 L1305.6 348.2 M1335.9 297.1 L1336.6 333.5 M1366.8 288.7 L1367.5 326.1 M1397.7 289.1 L1398.4 326.9 M1428.6 299.2 L1429.3 336.7 M1459.5 319.8 L1460.2 356.4 M1490.5 351.2 L1491.1 386 M1521.4 393.3 L1522.1 425.6 M1552.3 445.4 L1553 474.5 M1583.2 506.5 L1583.9 531.6 M1614.1 574.8 L1614.8 595.4 M1645 648.5 L1645.7 663.8 M1676 724.9 L1676.6 734.7 M1706.9 801.6 L1707.6 805.6" fill="none" stroke="#000" stroke-opacity="0.88" stroke-width="3.2"/>
</g>
<g>
<path d="M222.2 798.8 253.1 876.7 253.8 876.1 222.9 801.6 Z" fill="#00b0bb"/>
<path d="M253.1 876.7 284 949.9 284.7 945.8 253.8 876.1 Z" fill="#00a2d0"/>
<path d="M284 949.9 314.9 1016.2 315.6 1008.8 284.7 945.8 Z" fill="#008ad6"/>
<path d="M314.9 1016.2 345.9 1073.8 346.5 1063.4 315.6 1008.8 Z" fill="#007ade"/>
<path d="M345.9 1073.8 376.8 1121.4 377.5 1108.4 346.5 1063.4 Z" fill="#0068e5"/>
<path d="M376.8 1121.4 407.7 1158.4 408.4 1143.2 377.5 1108.4 Z" fill="#0052d8"/>
<path d="M407.7 1158.4 438.6 1184.7 439.3 1167.7 408.4 1143.2 Z" fill="#2e3ab1"/>
<path d="M438.6 1184.7 469.5 1200.5 470.2 1182.2 439.3 1167.7 Z" fill="#352d97"/>
<path d="M469.5 1200.5 500.4 1206.5 501.1 1187.4 470.2 1182.2 Z" fill="#36268b"/>
<path d="M500.4 1206.5 531.4 1203.5 532 1184.2 501.1 1187.4 Z" fill="#36268b"/>
<path d="M531.4 1203.5 562.3 1192.6 563 1173.4 532 1184.2 Z" fill="#36268b"/>
<path d="M562.3 1192.6 593.2 1175.2 593.9 1156.5 563 1173.4 Z" fill="#352d97"/>
<path d="M593.2 1175.2 624.1 1152.5 624.8 1134.7 593.9 1156.5 Z" fill="#3333a4"/>
<path d="M624.1 1152.5 655 1125.4 655.7 1108.7 624.8 1134.7 Z" fill="#2442be"/>
<path d="M655 1125.4 685.9 1094.5 686.6 1079.2 655.7 1108.7 Z" fill="#0749cb"/>
<path d="M685.9 1094.5 716.9 1060.3 717.5 1046.5 686.6 1079.2 Z" fill="#0063e5"/>
<path d="M716.9 1060.3 747.8 1023.2 748.5 1011 717.5 1046.5 Z" fill="#006de4"/>
<path d="M747.8 1023.2 778.7 983.7 779.4 973.3 748.5 1011 Z" fill="#0076e0"/>
<path d="M778.7 983.7 809.6 942.3 810.3 933.7 779.4 973.3 Z" fill="#0082da"/>
<path d="M809.6 942.3 840.5 899.4 841.2 892.8 810.3 933.7 Z" fill="#008fd6"/>
<path d="M840.5 899.4 871.4 855.7 872.1 851 841.2 892.8 Z" fill="#009ed2"/>
<path d="M871.4 855.7 902.4 811.4 903 808.7 872.1 851 Z" fill="#00a8c9"/>
<path d="M902.4 811.4 933.3 767.1 934 766.4 903 808.7 Z" fill="#00adc0"/>
<path d="M933.3 767.1 964.2 722.6 964.9 723.9 934 766.4 Z" fill="#00b4b0"/>
<path d="M964.2 722.6 995.1 677.8 995.8 681.2 964.9 723.9 Z" fill="#00ba9e"/>
<path d="M995.1 677.8 1026 633 1026.7 638.3 995.8 681.2 Z" fill="#00bf8a"/>
<path d="M1026 633 1056.9 588.2 1057.6 595.6 1026.7 638.3 Z" fill="#4ec078"/>
<path d="M1056.9 588.2 1087.9 543.9 1088.5 553.2 1057.6 595.6 Z" fill="#8cc06a"/>
<path d="M1087.9 543.9 1118.8 500.4 1119.5 511.6 1088.5 553.2 Z" fill="#b6be5d"/>
<path d="M1118.8 500.4 1149.7 458.1 1150.4 471.3 1119.5 511.6 Z" fill="#dabc51"/>
<path d="M1149.7 458.1 1180.6 417.8 1181.3 432.8 1150.4 471.3 Z" fill="#f9bb43"/>
<path d="M1180.6 417.8 1211.5 380.2 1212.2 396.8 1181.3 432.8 Z" fill="#ffc02a"/>
<path d="M1211.5 380.2 1242.4 346.1 1243.1 364.2 1212.2 396.8 Z" fill="#ffca0d"/>
<path d="M1242.4 346.1 1273.4 316.5 1274 336 1243.1 364.2 Z" fill="#ffd900"/>
<path d="M1273.4 316.5 1304.3 292.7 1305 313.3 1274 336 Z" fill="#fbe500"/>
<path d="M1304.3 292.7 1335.2 275.6 1335.9 297.1 1305 313.3 Z" fill="#f9ec00"/>
<path d="M1335.2 275.6 1366.1 266.6 1366.8 288.7 1335.9 297.1 Z" fill="#f8f300"/>
<path d="M1366.1 266.6 1397 266.7 1397.7 289.1 1366.8 288.7 Z" fill="#f8fb00"/>
<path d="M1397 266.7 1427.9 277 1428.6 299.2 1397.7 289.1 Z" fill="#f8fb00"/>
<path d="M1427.9 277 1458.9 298.1 1459.5 319.8 1428.6 299.2 Z" fill="#f8f300"/>
<path d="M1458.9 298.1 1489.8 330.4 1490.5 351.2 1459.5 319.8 Z" fill="#f9ec00"/>
<path d="M1489.8 330.4 1520.7 373.9 1521.4 393.3 1490.5 351.2 Z" fill="#fedf00"/>
<path d="M1520.7 373.9 1551.6 427.9 1552.3 445.4 1521.4 393.3 Z" fill="#ffcf00"/>
<path d="M1551.6 427.9 1582.5 491.2 1583.2 506.5 1552.3 445.4 Z" fill="#ffbc35"/>
<path d="M1582.5 491.2 1613.4 562.3 1614.1 574.8 1583.2 506.5 Z" fill="#e5bc4d"/>
<path d="M1613.4 562.3 1644.4 638.9 1645 648.5 1614.1 574.8 Z" fill="#a9bf61"/>
<path d="M1644.4 638.9 1675.3 718.6 1676 724.9 1645 648.5 Z" fill="#4ec078"/>
<path d="M1675.3 718.6 1706.2 798.8 1706.9 801.6 1676 724.9 Z" fill="#00bc98"/>
<path d="M222.9 801.6 253.8 876.1 284.7 945.8 315.6 1008.8 346.5 1063.4 377.5 1108.4 408.4 1143.2 439.3 1167.7 470.2 1182.2 501.1 1187.4 532 1184.2 563 1173.4 593.9 1156.5 624.8 1134.7 655.7 1108.7 686.6 1079.2 717.5 1046.5 748.5 1011 779.4 973.3 810.3 933.7 841.2 892.8 872.1 851 903 808.7 934 766.4 964.9 723.9 995.8 681.2 1026.7 638.3 1057.6 595.6 1088.5 553.2 1119.5 511.6 1150.4 471.3 1181.3 432.8 1212.2 396.8 1243.1 364.2 1274 336 1305 313.3 1335.9 297.1 1366.8 288.7 1397.7 289.1 1428.6 299.2 1459.5 319.8 1490.5 351.2 1521.4 393.3 1552.3 445.4 1583.2 506.5 1614.1 574.8 1645 648.5 1676 724.9 1706.9 801.6 M222.2 798.8 L222.9 801.6 M253.1 876.7 L253.8 876.1 M284 949.9 L284.7 945.8 M314.9 1016.2 L315.6 1008.8 M345.9 1073.8 L346.5 1063.4 M376.8 1121.4 L377.5 1108.4 M407.7 1158.4 L408.4 1143.2 M438.6 1184.7 L439.3 1167.7 M469.5 1200.5 L470.2 1182.2 M500.4 1206.5 L501.1 1187.4 M531.4 1203.5 L532 1184.2 M562.3 1192.6 L563 1173.4 M593.2 1175.2 L593.9 1156.5 M624.1 1152.5 L624.8 1134.7 M655 1125.4 L655.7 1108.7 M685.9 1094.5 L686.6 1079.2 M716.9 1060.3 L717.5 1046.5 M747.8 1023.2 L748.5 1011 M778.7 983.7 L779.4 973.3 M809.6 942.3 L810.3 933.7 M840.5 899.4 L841.2 892.8 M871.4 855.7 L872.1 851 M902.4 811.4 L903 808.7 M933.3 767.1 L934 766.4 M964.2 722.6 L964.9 723.9 M995.1 677.8 L995.8 681.2 M1026 633 L1026.7 638.3 M1056.9 588.2 L1057.6 595.6 M1087.9 543.9 L1088.5 553.2 M1118.8 500.4 L1119.5 511.6 M1149.7 458.1 L1150.4 471.3 M1180.6 417.8 L1181.3 432.8 M1211.5 380.2 L1212.2 396.8 M1242.4 346.1 L1243.1 364.2 M1273.4 316.5 L1274 336 M1304.3 292.7 L1305 313.3 M1335.2 275.6 L1335.9 297.1 M1366.1 266.6 L1366.8 288.7 M1397 266.7 L1397.7 289.1 M1427.9 277 L1428.6 299.2 M1458.9 298.1 L1459.5 319.8 M1489.8 330.4 L1490.5 351.2 M1520.7 373.9 L1521.4 393.3 M1551.6 427.9 L1552.3 445.4 M1582.5 491.2 L1583.2 506.5 M1613.4 562.3 L1614.1 574.8 M1644.4 638.9 L1645 648.5 M1675.3 718.6 L1676 724.9 M1706.2 798.8 L1706.9 801.6" fill="none" stroke="#000" stroke-opacity="0.88" stroke-width="3.2"/>
</g>
<g>
<path d="M221.5 797.8 252.4 876.9 253.1 876.7 222.2 798.8 Z" fill="#00b0bb"/>
<path d="M252.4 876.9 283.3 951.2 284 949.9 253.1 876.7 Z" fill="#00a2d0"/>
<path d="M283.3 951.2 314.2 1018.6 314.9 1016.2 284 949.9 Z" fill="#008ad6"/>
<path d="M314.2 1018.6 345.2 1077.1 345.9 1073.8 314.9 1016.2 Z" fill="#007ade"/>
<path d="M345.2 1077.1 376.1 1125.7 376.8 1121.4 345.9 1073.8 Z" fill="#0068e5"/>
<path d="M376.1 1125.7 407 1163.5 407.7 1158.4 376.8 1121.4 Z" fill="#0749cb"/>
<path d="M407 1163.5 437.9 1190.3 438.6 1184.7 407.7 1158.4 Z" fill="#2e3ab1"/>
<path d="M437.9 1190.3 468.8 1206.5 469.5 1200.5 438.6 1184.7 Z" fill="#352d97"/>
<path d="M468.8 1206.5 499.8 1212.8 500.4 1206.5 469.5 1200.5 Z" fill="#36268b"/>
<path d="M499.8 1212.8 530.7 1209.9 531.4 1203.5 500.4 1206.5 Z" fill="#36268b"/>
<path d="M530.7 1209.9 561.6 1199 562.3 1192.6 531.4 1203.5 Z" fill="#36268b"/>
<path d="M561.6 1199 592.5 1181.4 593.2 1175.2 562.3 1192.6 Z" fill="#36268b"/>
<path d="M592.5 1181.4 623.4 1158.5 624.1 1152.5 593.2 1175.2 Z" fill="#3333a4"/>
<path d="M623.4 1158.5 654.3 1131 655 1125.4 624.1 1152.5 Z" fill="#2e3ab1"/>
<path d="M654.3 1131 685.2 1099.7 685.9 1094.5 655 1125.4 Z" fill="#0749cb"/>
<path d="M685.2 1099.7 716.2 1064.9 716.9 1060.3 685.9 1094.5 Z" fill="#005be2"/>
<path d="M716.2 1064.9 747.1 1027.3 747.8 1023.2 716.9 1060.3 Z" fill="#006de4"/>
<path d="M747.1 1027.3 778 987.2 778.7 983.7 747.8 1023.2 Z" fill="#0076e0"/>
<path d="M778 987.2 808.9 945.2 809.6 942.3 778.7 983.7 Z" fill="#0082da"/>
<path d="M808.9 945.2 839.8 901.7 840.5 899.4 809.6 942.3 Z" fill="#008fd6"/>
<path d="M839.8 901.7 870.8 857.3 871.4 855.7 840.5 899.4 Z" fill="#009ed2"/>
<path d="M870.8 857.3 901.7 812.4 902.4 811.4 871.4 855.7 Z" fill="#00a5cc"/>
<path d="M901.7 812.4 932.6 767.4 933.3 767.1 902.4 811.4 Z" fill="#00adc0"/>
<path d="M932.6 767.4 963.5 722.2 964.2 722.6 933.3 767.1 Z" fill="#00b4b0"/>
<path d="M963.5 722.2 994.4 676.7 995.1 677.8 964.2 722.6 Z" fill="#00ba9e"/>
<path d="M994.4 676.7 1025.3 631.2 1026 633 995.1 677.8 Z" fill="#00bf8a"/>
<path d="M1025.3 631.2 1056.2 585.8 1056.9 588.2 1026 633 Z" fill="#67c073"/>
<path d="M1056.2 585.8 1087.2 540.8 1087.9 543.9 1056.9 588.2 Z" fill="#9bc065"/>
<path d="M1087.2 540.8 1118.1 496.6 1118.8 500.4 1087.9 543.9 Z" fill="#c3be59"/>
<path d="M1118.1 496.6 1149 453.8 1149.7 458.1 1118.8 500.4 Z" fill="#e5bc4d"/>
<path d="M1149 453.8 1179.9 412.9 1180.6 417.8 1149.7 458.1 Z" fill="#f9bb43"/>
<path d="M1179.9 412.9 1210.8 374.7 1211.5 380.2 1180.6 417.8 Z" fill="#ffc02a"/>
<path d="M1210.8 374.7 1241.8 340.1 1242.4 346.1 1211.5 380.2 Z" fill="#ffcf00"/>
<path d="M1241.8 340.1 1272.7 310.1 1273.4 316.5 1242.4 346.1 Z" fill="#ffd900"/>
<path d="M1272.7 310.1 1303.6 285.8 1304.3 292.7 1273.4 316.5 Z" fill="#fbe500"/>
<path d="M1303.6 285.8 1334.5 268.5 1335.2 275.6 1304.3 292.7 Z" fill="#f8f300"/>
<path d="M1334.5 268.5 1365.4 259.2 1366.1 266.6 1335.2 275.6 Z" fill="#f8fb00"/>
<path d="M1365.4 259.2 1396.3 259.3 1397 266.7 1366.1 266.6 Z" fill="#f8fb00"/>
<path d="M1396.3 259.3 1427.2 269.6 1427.9 277 1397 266.7 Z" fill="#f8fb00"/>
<path d="M1427.2 269.6 1458.2 290.9 1458.9 298.1 1427.9 277 Z" fill="#f8fb00"/>
<path d="M1458.2 290.9 1489.1 323.5 1489.8 330.4 1458.9 298.1 Z" fill="#f9ec00"/>
<path d="M1489.1 323.5 1520 367.4 1520.7 373.9 1489.8 330.4 Z" fill="#fedf00"/>
<path d="M1520 367.4 1550.9 422 1551.6 427.9 1520.7 373.9 Z" fill="#ffcf00"/>
<path d="M1550.9 422 1581.8 486.1 1582.5 491.2 1551.6 427.9 Z" fill="#ffc02a"/>
<path d="M1581.8 486.1 1612.8 558 1613.4 562.3 1582.5 491.2 Z" fill="#e5bc4d"/>
<path d="M1612.8 558 1643.7 635.7 1644.4 638.9 1613.4 562.3 Z" fill="#a9bf61"/>
<path d="M1643.7 635.7 1674.6 716.5 1675.3 718.6 1644.4 638.9 Z" fill="#4ec078"/>
<path d="M1674.6 716.5 1705.5 797.8 1706.2 798.8 1675.3 718.6 Z" fill="#00bc98"/>
<path d="M222.2 798.8 253.1 876.7 284 949.9 314.9 1016.2 345.9 1073.8 376.8 1121.4 407.7 1158.4 438.6 1184.7 469.5 1200.5 500.4 1206.5 531.4 1203.5 562.3 1192.6 593.2 1175.2 624.1 1152.5 655 1125.4 685.9 1094.5 716.9 1060.3 747.8 1023.2 778.7 983.7 809.6 942.3 840.5 899.4 871.4 855.7 902.4 811.4 933.3 767.1 964.2 722.6 995.1 677.8 1026 633 1056.9 588.2 1087.9 543.9 1118.8 500.4 1149.7 458.1 1180.6 417.8 1211.5 380.2 1242.4 346.1 1273.4 316.5 1304.3 292.7 1335.2 275.6 1366.1 266.6 1397 266.7 1427.9 277 1458.9 298.1 1489.8 330.4 1520.7 373.9 1551.6 427.9 1582.5 491.2 1613.4 562.3 1644.4 638.9 1675.3 718.6 1706.2 798.8 M221.5 797.8 L222.2 798.8 M252.4 876.9 L253.1 876.7 M283.3 951.2 L284 949.9 M314.2 1018.6 L314.9 1016.2 M345.2 1077.1 L345.9 1073.8 M376.1 1125.7 L376.8 1121.4 M407 1163.5 L407.7 1158.4 M437.9 1190.3 L438.6 1184.7 M468.8 1206.5 L469.5 1200.5 M499.8 1212.8 L500.4 1206.5 M530.7 1209.9 L531.4 1203.5 M561.6 1199 L562.3 1192.6 M592.5 1181.4 L593.2 1175.2 M623.4 1158.5 L624.1 1152.5 M654.3 1131 L655 1125.4 M685.2 1099.7 L685.9 1094.5 M716.2 1064.9 L716.9 1060.3 M747.1 1027.3 L747.8 1023.2 M778 987.2 L778.7 983.7 M808.9 945.2 L809.6 942.3 M839.8 901.7 L840.5 899.4 M870.8 857.3 L871.4 855.7 M901.7 812.4 L902.4 811.4 M932.6 767.4 L933.3 767.1 M963.5 722.2 L964.2 722.6 M994.4 676.7 L995.1 677.8 M1025.3 631.2 L1026 633 M1056.2 585.8 L1056.9 588.2 M1087.2 540.8 L1087.9 543.9 M1118.1 496.6 L1118.8 500.4 M1149 453.8 L1149.7 458.1 M1179.9 412.9 L1180.6 417.8 M1210.8 374.7 L1211.5 380.2 M1241.8 340.1 L1242.4 346.1 M1272.7 310.1 L1273.4 316.5 M1303.6 285.8 L1304.3 292.7 M1334.5 268.5 L1335.2 275.6 M1365.4 259.2 L1366.1 266.6 M1396.3 259.3 L1397 266.7 M1427.2 269.6 L1427.9 277 M1458.2 290.9 L1458.9 298.1 M1489.1 323.5 L1489.8 330.4 M1520 367.4 L1520.7 373.9 M1550.9 422 L1551.6 427.9 M1581.8 486.1 L1582.5 491.2 M1612.8 558 L1613.4 562.3 M1643.7 635.7 L1644.4 638.9 M1674.6 716.5 L1675.3 718.6 M1705.5 797.8 L1706.2 798.8" fill="none" stroke="#000" stroke-opacity="0.88" stroke-width="3.2"/>
</g>
<g>
<path d="M220.8 798.8 251.7 876.7 252.4 876.9 221.5 797.8 Z" fill="#00b0bb"/>
<path d="M251.7 876.7 282.6 949.9 283.3 951.2 252.4 876.9 Z" fill="#00a2d0"/>
<path d="M282.6 949.9 313.6 1016.2 314.2 1018.6 283.3 951.2 Z" fill="#008ad6"/>
<path d="M313.6 1016.2 344.5 1073.8 345.2 1077.1 314.2 1018.6 Z" fill="#007ade"/>
<path d="M344.5 1073.8 375.4 1121.4 376.1 1125.7 345.2 1077.1 Z" fill="#0068e5"/>
<path d="M375.4 1121.4 406.3 1158.4 407 1163.5 376.1 1125.7 Z" fill="#0052d8"/>
<path d="M406.3 1158.4 437.2 1184.7 437.9 1190.3 407 1163.5 Z" fill="#2e3ab1"/>
<path d="M437.2 1184.7 468.1 1200.5 468.8 1206.5 437.9 1190.3 Z" fill="#352d97"/>
<path d="M468.1 1200.5 499.1 1206.5 499.8 1212.8 468.8 1206.5 Z" fill="#36268b"/>
<path d="M499.1 1206.5 530 1203.5 530.7 1209.9 499.8 1212.8 Z" fill="#36268b"/>
<path d="M530 1203.5 560.9 1192.6 561.6 1199 530.7 1209.9 Z" fill="#36268b"/>
<path d="M560.9 1192.6 591.8 1174.9 592.5 1181.4 561.6 1199 Z" fill="#352d97"/>
<path d="M591.8 1174.9 622.7 1151.5 623.4 1158.5 592.5 1181.4 Z" fill="#3333a4"/>
<path d="M622.7 1151.5 653.6 1123.4 654.3 1131 623.4 1158.5 Z" fill="#2442be"/>
<path d="M653.6 1123.4 684.6 1091.5 685.2 1099.7 654.3 1131 Z" fill="#0749cb"/>
<path d="M684.6 1091.5 715.5 1056.6 716.2 1064.9 685.2 1099.7 Z" fill="#0063e5"/>
<path d="M715.5 1056.6 746.4 1019.2 747.1 1027.3 716.2 1064.9 Z" fill="#006de4"/>
<path d="M746.4 1019.2 777.3 980 778 987.2 747.1 1027.3 Z" fill="#0076e0"/>
<path d="M777.3 980 808.2 939.3 808.9 945.2 778 987.2 Z" fill="#0082da"/>
<path d="M808.2 939.3 839.1 897.4 839.8 901.7 808.9 945.2 Z" fill="#008fd6"/>
<path d="M839.1 897.4 870.1 854.7 870.8 857.3 839.8 901.7 Z" fill="#009ed2"/>
<path d="M870.1 854.7 901 811.2 901.7 812.4 870.8 857.3 Z" fill="#00a8c9"/>
<path d="M901 811.2 931.9 767.1 932.6 767.4 901.7 812.4 Z" fill="#00adc0"/>
<path d="M931.9 767.1 962.8 722.6 963.5 722.2 932.6 767.4 Z" fill="#00b4b0"/>
<path d="M962.8 722.6 993.7 677.8 994.4 676.7 963.5 722.2 Z" fill="#00ba9e"/>
<path d="M993.7 677.8 1024.6 633 1025.3 631.2 994.4 676.7 Z" fill="#00bf8a"/>
<path d="M1024.6 633 1055.6 588.2 1056.2 585.8 1025.3 631.2 Z" fill="#4ec078"/>
<path d="M1055.6 588.2 1086.5 543.9 1087.2 540.8 1056.2 585.8 Z" fill="#8cc06a"/>
<path d="M1086.5 543.9 1117.4 500.4 1118.1 496.6 1087.2 540.8 Z" fill="#b6be5d"/>
<path d="M1117.4 500.4 1148.3 458.1 1149 453.8 1118.1 496.6 Z" fill="#dabc51"/>
<path d="M1148.3 458.1 1179.2 417.8 1179.9 412.9 1149 453.8 Z" fill="#f9bb43"/>
<path d="M1179.2 417.8 1210.1 380.2 1210.8 374.7 1179.9 412.9 Z" fill="#ffc02a"/>
<path d="M1210.1 380.2 1241.1 346.1 1241.8 340.1 1210.8 374.7 Z" fill="#ffca0d"/>
<path d="M1241.1 346.1 1272 316.5 1272.7 310.1 1241.8 340.1 Z" fill="#ffd900"/>
<path d="M1272 316.5 1302.9 292.7 1303.6 285.8 1272.7 310.1 Z" fill="#fbe500"/>
<path d="M1302.9 292.7 1333.8 275.6 1334.5 268.5 1303.6 285.8 Z" fill="#f9ec00"/>
<path d="M1333.8 275.6 1364.7 266.6 1365.4 259.2 1334.5 268.5 Z" fill="#f8f300"/>
<path d="M1364.7 266.6 1395.6 266.7 1396.3 259.3 1365.4 259.2 Z" fill="#f8fb00"/>
<path d="M1395.6 266.7 1426.6 277 1427.2 269.6 1396.3 259.3 Z" fill="#f8fb00"/>
<path d="M1426.6 277 1457.5 298.1 1458.2 290.9 1427.2 269.6 Z" fill="#f8f300"/>
<path d="M1457.5 298.1 1488.4 330.4 1489.1 323.5 1458.2 290.9 Z" fill="#f9ec00"/>
<path d="M1488.4 330.4 1519.3 373.9 1520 367.4 1489.1 323.5 Z" fill="#fedf00"/>
<path d="M1519.3 373.9 1550.2 427.9 1550.9 422 1520 367.4 Z" fill="#ffcf00"/>
<path d="M1550.2 427.9 1581.1 491.2 1581.8 486.1 1550.9 422 Z" fill="#ffbc35"/>
<path d="M1581.1 491.2 1612.1 562.3 1612.8 558 1581.8 486.1 Z" fill="#e5bc4d"/>
<path d="M1612.1 562.3 1643 638.9 1643.7 635.7 1612.8 558 Z" fill="#a9bf61"/>
<path d="M1643 638.9 1673.9 718.6 1674.6 716.5 1643.7 635.7 Z" fill="#4ec078"/>
<path d="M1673.9 718.6 1704.8 798.8 1705.5 797.8 1674.6 716.5 Z" fill="#00bc98"/>
<path d="M221.5 797.8 252.4 876.9 283.3 951.2 314.2 1018.6 345.2 1077.1 376.1 1125.7 407 1163.5 437.9 1190.3 468.8 1206.5 499.8 1212.8 530.7 1209.9 561.6 1199 592.5 1181.4 623.4 1158.5 654.3 1131 685.2 1099.7 716.2 1064.9 747.1 1027.3 778 987.2 808.9 945.2 839.8 901.7 870.8 857.3 901.7 812.4 932.6 767.4 963.5 722.2 994.4 676.7 1025.3 631.2 1056.2 585.8 1087.2 540.8 1118.1 496.6 1149 453.8 1179.9 412.9 1210.8 374.7 1241.8 340.1 1272.7 310.1 1303.6 285.8 1334.5 268.5 1365.4 259.2 1396.3 259.3 1427.2 269.6 1458.2 290.9 1489.1 323.5 1520 367.4 1550.9 422 1581.8 486.1 1612.8 558 1643.7 635.7 1674.6 716.5 1705.5 797.8 M220.8 798.8 L221.5 797.8 M251.7 876.7 L252.4 876.9 M282.6 949.9 L283.3 951.2 M313.6 1016.2 L314.2 1018.6 M344.5 1073.8 L345.2 1077.1 M375.4 1121.4 L376.1 1125.7 M406.3 1158.4 L407 1163.5 M437.2 1184.7 L437.9 1190.3 M468.1 1200.5 L468.8 1206.5 M499.1 1206.5 L499.8 1212.8 M530 1203.5 L530.7 1209.9 M560.9 1192.6 L561.6 1199 M591.8 1174.9 L592.5 1181.4 M622.7 1151.5 L623.4 1158.5 M653.6 1123.4 L654.3 1131 M684.6 1091.5 L685.2 1099.7 M715.5 1056.6 L716.2 1064.9 M746.4 1019.2 L747.1 1027.3 M777.3 980 L778 987.2 M808.2 939.3 L808.9 945.2 M839.1 897.4 L839.8 901.7 M870.1 854.7 L870.8 857.3 M901 811.2 L901.7 812.4 M931.9 767.1 L932.6 767.4 M962.8 722.6 L963.5 722.2 M993.7 677.8 L994.4 676.7 M1024.6 633 L1025.3 631.2 M1055.6 588.2 L1056.2 585.8 M1086.5 543.9 L1087.2 540.8 M1117.4 500.4 L1118.1 496.6 M1148.3 458.1 L1149 453.8 M1179.2 417.8 L1179.9 412.9 M1210.1 380.2 L1210.8 374.7 M1241.1 346.1 L1241.8 340.1 M1272 316.5 L1272.7 310.1 M1302.9 292.7 L1303.6 285.8 M1333.8 275.6 L1334.5 268.5 M1364.7 266.6 L1365.4 259.2 M1395.6 266.7 L1396.3 259.3 M1426.6 277 L1427.2 269.6 M1457.5 298.1 L1458.2 290.9 M1488.4 330.4 L1489.1 323.5 M1519.3 373.9 L1520 367.4 M1550.2 427.9 L1550.9 422 M1581.1 491.2 L1581.8 486.1 M1612.1 562.3 L1612.8 558 M1643 638.9 L1643.7 635.7 M1673.9 718.6 L1674.6 716.5 M1704.8 798.8 L1705.5 797.8" fill="none" stroke="#000" stroke-opacity="0.88" stroke-width="3.2"/>
</g>
<g>
<path d="M220.1 801.6 251 876.1 251.7 876.7 220.8 798.8 Z" fill="#00b0bb"/>
<path d="M251 876.1 282 945.8 282.6 949.9 251.7 876.7 Z" fill="#00a2d0"/>
<path d="M282 945.8 312.9 1008.8 313.6 1016.2 282.6 949.9 Z" fill="#008ad6"/>
<path d="M312.9 1008.8 343.8 1063.4 344.5 1073.8 313.6 1016.2 Z" fill="#007ade"/>
<path d="M343.8 1063.4 374.7 1108.4 375.4 1121.4 344.5 1073.8 Z" fill="#006de4"/>
<path d="M374.7 1108.4 405.6 1143.2 406.3 1158.4 375.4 1121.4 Z" fill="#005be2"/>
<path d="M405.6 1143.2 436.5 1167.7 437.2 1184.7 406.3 1158.4 Z" fill="#2442be"/>
<path d="M436.5 1167.7 467.5 1182.2 468.1 1200.5 437.2 1184.7 Z" fill="#2e3ab1"/>
<path d="M467.5 1182.2 498.4 1187.4 499.1 1206.5 468.1 1200.5 Z" fill="#3333a4"/>
<path d="M498.4 1187.4 529.3 1184.2 530 1203.5 499.1 1206.5 Z" fill="#352d97"/>
<path d="M529.3 1184.2 560.2 1173.4 560.9 1192.6 530 1203.5 Z" fill="#352d97"/>
<path d="M560.2 1173.4 591.1 1156.2 591.8 1174.9 560.9 1192.6 Z" fill="#3333a4"/>
<path d="M591.1 1156.2 622 1133.7 622.7 1151.5 591.8 1174.9 Z" fill="#2e3ab1"/>
<path d="M622 1133.7 653 1106.7 653.6 1123.4 622.7 1151.5 Z" fill="#0749cb"/>
<path d="M653 1106.7 683.9 1076.2 684.6 1091.5 653.6 1123.4 Z" fill="#005be2"/>
<path d="M683.9 1076.2 714.8 1042.7 715.5 1056.6 684.6 1091.5 Z" fill="#0068e5"/>
<path d="M714.8 1042.7 745.7 1007 746.4 1019.2 715.5 1056.6 Z" fill="#0072e3"/>
<path d="M745.7 1007 776.6 969.6 777.3 980 746.4 1019.2 Z" fill="#007ade"/>
<path d="M776.6 969.6 807.5 930.7 808.2 939.3 777.3 980 Z" fill="#0086d8"/>
<path d="M807.5 930.7 838.5 890.8 839.1 897.4 808.2 939.3 Z" fill="#008fd6"/>
<path d="M838.5 890.8 869.4 850 870.1 854.7 839.1 897.4 Z" fill="#009ed2"/>
<path d="M869.4 850 900.3 808.5 901 811.2 870.1 854.7 Z" fill="#00a8c9"/>
<path d="M900.3 808.5 931.2 766.4 931.9 767.1 901 811.2 Z" fill="#00b0bb"/>
<path d="M931.2 766.4 962.1 723.9 962.8 722.6 931.9 767.1 Z" fill="#00b4b0"/>
<path d="M962.1 723.9 993 681.2 993.7 677.8 962.8 722.6 Z" fill="#00ba9e"/>
<path d="M993 681.2 1024 638.3 1024.6 633 993.7 677.8 Z" fill="#00bf8a"/>
<path d="M1024 638.3 1054.9 595.6 1055.6 588.2 1024.6 633 Z" fill="#4ec078"/>
<path d="M1054.9 595.6 1085.8 553.2 1086.5 543.9 1055.6 588.2 Z" fill="#8cc06a"/>
<path d="M1085.8 553.2 1116.7 511.6 1117.4 500.4 1086.5 543.9 Z" fill="#b6be5d"/>
<path d="M1116.7 511.6 1147.6 471.3 1148.3 458.1 1117.4 500.4 Z" fill="#dabc51"/>
<path d="M1147.6 471.3 1178.5 432.8 1179.2 417.8 1148.3 458.1 Z" fill="#efbb48"/>
<path d="M1178.5 432.8 1209.5 396.8 1210.1 380.2 1179.2 417.8 Z" fill="#ffbc35"/>
<path d="M1209.5 396.8 1240.4 364.2 1241.1 346.1 1210.1 380.2 Z" fill="#ffc51d"/>
<path d="M1240.4 364.2 1271.3 336 1272 316.5 1241.1 346.1 Z" fill="#ffcf00"/>
<path d="M1271.3 336 1302.2 313.3 1302.9 292.7 1272 316.5 Z" fill="#ffd900"/>
<path d="M1302.2 313.3 1333.1 297.1 1333.8 275.6 1302.9 292.7 Z" fill="#fbe500"/>
<path d="M1333.1 297.1 1364 288.7 1364.7 266.6 1333.8 275.6 Z" fill="#f9ec00"/>
<path d="M1364 288.7 1395 289.1 1395.6 266.7 1364.7 266.6 Z" fill="#f8f300"/>
<path d="M1395 289.1 1425.9 299.2 1426.6 277 1395.6 266.7 Z" fill="#f9ec00"/>
<path d="M1425.9 299.2 1456.8 319.8 1457.5 298.1 1426.6 277 Z" fill="#f9ec00"/>
<path d="M1456.8 319.8 1487.7 351.2 1488.4 330.4 1457.5 298.1 Z" fill="#fedf00"/>
<path d="M1487.7 351.2 1518.6 393.3 1519.3 373.9 1488.4 330.4 Z" fill="#ffd400"/>
<path d="M1518.6 393.3 1549.5 445.4 1550.2 427.9 1519.3 373.9 Z" fill="#ffca0d"/>
<path d="M1549.5 445.4 1580.5 506.5 1581.1 491.2 1550.2 427.9 Z" fill="#ffbb3d"/>
<path d="M1580.5 506.5 1611.4 574.8 1612.1 562.3 1581.1 491.2 Z" fill="#dabc51"/>
<path d="M1611.4 574.8 1642.3 648.5 1643 638.9 1612.1 562.3 Z" fill="#9bc065"/>
<path d="M1642.3 648.5 1673.2 724.9 1673.9 718.6 1643 638.9 Z" fill="#29c07e"/>
<path d="M1673.2 724.9 1704.1 801.6 1704.8 798.8 1673.9 718.6 Z" fill="#00ba9e"/>
<path d="M220.8 798.8 251.7 876.7 282.6 949.9 313.6 1016.2 344.5 1073.8 375.4 1121.4 406.3 1158.4 437.2 1184.7 468.1 1200.5 499.1 1206.5 530 1203.5 560.9 1192.6 591.8 1174.9 622.7 1151.5 653.6 1123.4 684.6 1091.5 715.5 1056.6 746.4 1019.2 777.3 980 808.2 939.3 839.1 897.4 870.1 854.7 901 811.2 931.9 767.1 962.8 722.6 993.7 677.8 1024.6 633 1055.6 588.2 1086.5 543.9 1117.4 500.4 1148.3 458.1 1179.2 417.8 1210.1 380.2 1241.1 346.1 1272 316.5 1302.9 292.7 1333.8 275.6 1364.7 266.6 1395.6 266.7 1426.6 277 1457.5 298.1 1488.4 330.4 1519.3 373.9 1550.2 427.9 1581.1 491.2 1612.1 562.3 1643 638.9 1673.9 718.6 1704.8 798.8 M220.1 801.6 L220.8 798.8 M251 876.1 L251.7 876.7 M282 945.8 L282.6 949.9 M312.9 1008.8 L313.6 1016.2 M343.8 1063.4 L344.5 1073.8 M374.7 1108.4 L375.4 1121.4 M405.6 1143.2 L406.3 1158.4 M436.5 1167.7 L437.2 1184.7 M467.5 1182.2 L468.1 1200.5 M498.4 1187.4 L499.1 1206.5 M529.3 1184.2 L530 1203.5 M560.2 1173.4 L560.9 1192.6 M591.1 1156.2 L591.8 1174.9 M622 1133.7 L622.7 1151.5 M653 1106.7 L653.6 1123.4 M683.9 1076.2 L684.6 1091.5 M714.8 1042.7 L715.5 1056.6 M745.7 1007 L746.4 1019.2 M776.6 969.6 L777.3 980 M807.5 930.7 L808.2 939.3 M838.5 890.8 L839.1 897.4 M869.4 850 L870.1 854.7 M900.3 808.5 L901 811.2 M931.2 766.4 L931.9 767.1 M962.1 723.9 L962.8 722.6 M993 681.2 L993.7 677.8 M1024 638.3 L1024.6 633 M1054.9 595.6 L1055.6 588.2 M1085.8 553.2 L1086.5 543.9 M1116.7 511.6 L1117.4 500.4 M1147.6 471.3 L1148.3 458.1 M1178.5 432.8 L1179.2 417.8 M1209.5 396.8 L1210.1 380.2 M1240.4 364.2 L1241.1 346.1 M1271.3 336 L1272 316.5 M1302.2 313.3 L1302.9 292.7 M1333.1 297.1 L1333.8 275.6 M1364 288.7 L1364.7 266.6 M1395 289.1 L1395.6 266.7 M1425.9 299.2 L1426.6 277 M1456.8 319.8 L1457.5 298.1 M1487.7 351.2 L1488.4 330.4 M1518.6 393.3 L1519.3 373.9 M1549.5 445.4 L1550.2 427.9 M1580.5 506.5 L1581.1 491.2 M1611.4 574.8 L1612.1 562.3 M1642.3 648.5 L1643 638.9 M1673.2 724.9 L1673.9 718.6 M1704.1 801.6 L1704.8 798.8" fill="none" stroke="#000" stroke-opacity="0.88" stroke-width="3.2"/>
</g>
<g>
<path d="M219.4 805.6 250.4 874.1 251 876.1 220.1 801.6 Z" fill="#00b0bb"/>
<path d="M250.4 874.1 281.3 938.1 282 945.8 251 876.1 Z" fill="#00a2d0"/>
<path d="M281.3 938.1 312.2 995.6 312.9 1008.8 282 945.8 Z" fill="#008fd6"/>
<path d="M312.2 995.6 343.1 1045.2 343.8 1063.4 312.9 1008.8 Z" fill="#007edc"/>
<path d="M343.1 1045.2 374 1085.8 374.7 1108.4 343.8 1063.4 Z" fill="#0072e3"/>
<path d="M374 1085.8 404.9 1117.1 405.6 1143.2 374.7 1108.4 Z" fill="#0063e5"/>
<path d="M404.9 1117.1 435.9 1138.8 436.5 1167.7 405.6 1143.2 Z" fill="#0052d8"/>
<path d="M435.9 1138.8 466.8 1151.4 467.5 1182.2 436.5 1167.7 Z" fill="#2442be"/>
<path d="M466.8 1151.4 497.7 1155.4 498.4 1187.4 467.5 1182.2 Z" fill="#2442be"/>
<path d="M497.7 1155.4 528.6 1151.7 529.3 1184.2 498.4 1187.4 Z" fill="#2e3ab1"/>
<path d="M528.6 1151.7 559.5 1141.3 560.2 1173.4 529.3 1184.2 Z" fill="#2442be"/>
<path d="M559.5 1141.3 590.4 1125.1 591.1 1156.2 560.2 1173.4 Z" fill="#2442be"/>
<path d="M590.4 1125.1 621.4 1104 622 1133.7 591.1 1156.2 Z" fill="#0749cb"/>
<path d="M621.4 1104 652.3 1078.9 653 1106.7 622 1133.7 Z" fill="#005be2"/>
<path d="M652.3 1078.9 683.2 1050.6 683.9 1076.2 653 1106.7 Z" fill="#0063e5"/>
<path d="M683.2 1050.6 714.1 1019.8 714.8 1042.7 683.9 1076.2 Z" fill="#006de4"/>
<path d="M714.1 1019.8 745 986.9 745.7 1007 714.8 1042.7 Z" fill="#0076e0"/>
<path d="M745 986.9 775.9 952.4 776.6 969.6 745.7 1007 Z" fill="#0082da"/>
<path d="M775.9 952.4 806.9 916.7 807.5 930.7 776.6 969.6 Z" fill="#008ad6"/>
<path d="M806.9 916.7 837.8 879.9 838.5 890.8 807.5 930.7 Z" fill="#0095d5"/>
<path d="M837.8 879.9 868.7 842.4 869.4 850 838.5 890.8 Z" fill="#00a2d0"/>
<path d="M868.7 842.4 899.6 804.2 900.3 808.5 869.4 850 Z" fill="#00a8c9"/>
<path d="M899.6 804.2 930.5 765.5 931.2 766.4 900.3 808.5 Z" fill="#00b0bb"/>
<path d="M930.5 765.5 961.4 726.5 962.1 723.9 931.2 766.4 Z" fill="#00b6aa"/>
<path d="M961.4 726.5 992.4 687.1 993 681.2 962.1 723.9 Z" fill="#00ba9e"/>
<path d="M992.4 687.1 1023.3 647.6 1024 638.3 993 681.2 Z" fill="#00bf8a"/>
<path d="M1023.3 647.6 1054.2 608.3 1054.9 595.6 1024 638.3 Z" fill="#29c07e"/>
<path d="M1054.2 608.3 1085.1 569.2 1085.8 553.2 1054.9 595.6 Z" fill="#7bc06e"/>
<path d="M1085.1 569.2 1116 530.9 1116.7 511.6 1085.8 553.2 Z" fill="#a9bf61"/>
<path d="M1116 530.9 1146.9 493.7 1147.6 471.3 1116.7 511.6 Z" fill="#c3be59"/>
<path d="M1146.9 493.7 1177.9 458.2 1178.5 432.8 1147.6 471.3 Z" fill="#e5bc4d"/>
<path d="M1177.9 458.2 1208.8 425 1209.5 396.8 1178.5 432.8 Z" fill="#f9bb43"/>
<path d="M1208.8 425 1239.7 395 1240.4 364.2 1209.5 396.8 Z" fill="#ffbc35"/>
<path d="M1239.7 395 1270.6 369.1 1271.3 336 1240.4 364.2 Z" fill="#ffc51d"/>
<path d="M1270.6 369.1 1301.5 348.2 1302.2 313.3 1271.3 336 Z" fill="#ffcf00"/>
<path d="M1301.5 348.2 1332.4 333.5 1333.1 297.1 1302.2 313.3 Z" fill="#ffd900"/>
<path d="M1332.4 333.5 1363.4 326.1 1364 288.7 1333.1 297.1 Z" fill="#fedf00"/>
<path d="M1363.4 326.1 1394.3 326.9 1395 289.1 1364 288.7 Z" fill="#fedf00"/>
<path d="M1394.3 326.9 1425.2 336.7 1425.9 299.2 1395 289.1 Z" fill="#fedf00"/>
<path d="M1425.2 336.7 1456.1 356.4 1456.8 319.8 1425.9 299.2 Z" fill="#ffd900"/>
<path d="M1456.1 356.4 1487 386 1487.7 351.2 1456.8 319.8 Z" fill="#ffd400"/>
<path d="M1487 386 1517.9 425.6 1518.6 393.3 1487.7 351.2 Z" fill="#ffca0d"/>
<path d="M1517.9 425.6 1548.9 474.5 1549.5 445.4 1518.6 393.3 Z" fill="#ffbc35"/>
<path d="M1548.9 474.5 1579.8 531.6 1580.5 506.5 1549.5 445.4 Z" fill="#efbb48"/>
<path d="M1579.8 531.6 1610.7 595.4 1611.4 574.8 1580.5 506.5 Z" fill="#c3be59"/>
<path d="M1610.7 595.4 1641.6 663.8 1642.3 648.5 1611.4 574.8 Z" fill="#8cc06a"/>
<path d="M1641.6 663.8 1672.5 734.7 1673.2 724.9 1642.3 648.5 Z" fill="#00c084"/>
<path d="M1672.5 734.7 1703.4 805.6 1704.1 801.6 1673.2 724.9 Z" fill="#00ba9e"/>
<path d="M220.1 801.6 251 876.1 282 945.8 312.9 1008.8 343.8 1063.4 374.7 1108.4 405.6 1143.2 436.5 1167.7 467.5 1182.2 498.4 1187.4 529.3 1184.2 560.2 1173.4 591.1 1156.2 622 1133.7 653 1106.7 683.9 1076.2 714.8 1042.7 745.7 1007 776.6 969.6 807.5 930.7 838.5 890.8 869.4 850 900.3 808.5 931.2 766.4 962.1 723.9 993 681.2 1024 638.3 1054.9 595.6 1085.8 553.2 1116.7 511.6 1147.6 471.3 1178.5 432.8 1209.5 396.8 1240.4 364.2 1271.3 336 1302.2 313.3 1333.1 297.1 1364 288.7 1395 289.1 1425.9 299.2 1456.8 319.8 1487.7 351.2 1518.6 393.3 1549.5 445.4 1580.5 506.5 1611.4 574.8 1642.3 648.5 1673.2 724.9 1704.1 801.6 M219.4 805.6 L220.1 801.6 M250.4 874.1 L251 876.1 M281.3 938.1 L282 945.8 M312.2 995.6 L312.9 1008.8 M343.1 1045.2 L343.8 1063.4 M374 1085.8 L374.7 1108.4 M404.9 1117.1 L405.6 1143.2 M435.9 1138.8 L436.5 1167.7 M466.8 1151.4 L467.5 1182.2 M497.7 1155.4 L498.4 1187.4 M528.6 1151.7 L529.3 1184.2 M559.5 1141.3 L560.2 1173.4 M590.4 1125.1 L591.1 1156.2 M621.4 1104 L622 1133.7 M652.3 1078.9 L653 1106.7 M683.2 1050.6 L683.9 1076.2 M714.1 1019.8 L714.8 1042.7 M745 986.9 L745.7 1007 M775.9 952.4 L776.6 969.6 M806.9 916.7 L807.5 930.7 M837.8 879.9 L838.5 890.8 M868.7 842.4 L869.4 850 M899.6 804.2 L900.3 808.5 M930.5 765.5 L931.2 766.4 M961.4 726.5 L962.1 723.9 M992.4 687.1 L993 681.2 M1023.3 647.6 L1024 638.3 M1054.2 608.3 L1054.9 595.6 M1085.1 569.2 L1085.8 553.2 M1116 530.9 L1116.7 511.6 M1146.9 493.7 L1147.6 471.3 M1177.9 458.2 L1178.5 432.8 M1208.8 425 L1209.5 396.8 M1239.7 395 L1240.4 364.2 M1270.6 369.1 L1271.3 336 M1301.5 348.2 L1302.2 313.3 M1332.4 333.5 L1333.1 297.1 M1363.4 326.1 L1364 288.7 M1394.3 326.9 L1395 289.1 M1425.2 336.7 L1425.9 299.2 M1456.1 356.4 L1456.8 319.8 M1487 386 L1487.7 351.2 M1517.9 425.6 L1518.6 393.3 M1548.9 474.5 L1549.5 445.4 M1579.8 531.6 L1580.5 506.5 M1610.7 595.4 L1611.4 574.8 M1641.6 663.8 L1642.3 648.5 M1672.5 734.7 L1673.2 724.9 M1703.4 805.6 L1704.1 801.6" fill="none" stroke="#000" stroke-opacity="0.88" stroke-width="3.2"/>
</g>
<g>
<path d="M218.8 809.5 249.7 869.6 250.4 874.1 219.4 805.6 Z" fill="#00b0bb"/>
<path d="M249.7 869.6 280.6 925.5 281.3 938.1 250.4 874.1 Z" fill="#00a5cc"/>
<path d="M280.6 925.5 311.5 975.3 312.2 995.6 281.3 938.1 Z" fill="#0095d5"/>
<path d="M311.5 975.3 342.4 1018.1 343.1 1045.2 312.2 995.6 Z" fill="#0082da"/>
<path d="M342.4 1018.1 373.3 1052.8 374 1085.8 343.1 1045.2 Z" fill="#007ade"/>
<path d="M373.3 1052.8 404.2 1079.1 404.9 1117.1 374 1085.8 Z" fill="#006de4"/>
<path d="M404.2 1079.1 435.2 1097.2 435.9 1138.8 404.9 1117.1 Z" fill="#0063e5"/>
<path d="M435.2 1097.2 466.1 1107.2 466.8 1151.4 435.9 1138.8 Z" fill="#005be2"/>
<path d="M466.1 1107.2 497 1109.9 497.7 1155.4 466.8 1151.4 Z" fill="#005be2"/>
<path d="M497 1109.9 527.9 1105.9 528.6 1151.7 497.7 1155.4 Z" fill="#0052d8"/>
<path d="M527.9 1105.9 558.8 1096.1 559.5 1141.3 528.6 1151.7 Z" fill="#005be2"/>
<path d="M558.8 1096.1 589.8 1081.3 590.4 1125.1 559.5 1141.3 Z" fill="#005be2"/>
<path d="M589.8 1081.3 620.7 1062.5 621.4 1104 590.4 1125.1 Z" fill="#0063e5"/>
<path d="M620.7 1062.5 651.6 1040.2 652.3 1078.9 621.4 1104 Z" fill="#006de4"/>
<path d="M651.6 1040.2 682.5 1015.2 683.2 1050.6 652.3 1078.9 Z" fill="#0072e3"/>
<path d="M682.5 1015.2 713.4 988 714.1 1019.8 683.2 1050.6 Z" fill="#007ade"/>
<path d="M713.4 988 744.3 959 745 986.9 714.1 1019.8 Z" fill="#0082da"/>
<path d="M744.3 959 775.2 928.8 775.9 952.4 745 986.9 Z" fill="#008ad6"/>
<path d="M775.2 928.8 806.2 897.4 806.9 916.7 775.9 952.4 Z" fill="#0095d5"/>
<path d="M806.2 897.4 837.1 865.2 837.8 879.9 806.9 916.7 Z" fill="#009ed2"/>
<path d="M837.1 865.2 868 832.3 868.7 842.4 837.8 879.9 Z" fill="#00a5cc"/>
<path d="M868 832.3 898.9 798.8 899.6 804.2 868.7 842.4 Z" fill="#00abc4"/>
<path d="M898.9 798.8 929.8 764.9 930.5 765.5 899.6 804.2 Z" fill="#00b0bb"/>
<path d="M929.8 764.9 960.8 730.6 961.4 726.5 930.5 765.5 Z" fill="#00b6aa"/>
<path d="M960.8 730.6 991.7 696.1 992.4 687.1 961.4 726.5 Z" fill="#00ba9e"/>
<path d="M991.7 696.1 1022.6 661.4 1023.3 647.6 992.4 687.1 Z" fill="#00be91"/>
<path d="M1022.6 661.4 1053.5 626.8 1054.2 608.3 1023.3 647.6 Z" fill="#29c07e"/>
<path d="M1053.5 626.8 1084.4 592.4 1085.1 569.2 1054.2 608.3 Z" fill="#67c073"/>
<path d="M1084.4 592.4 1115.3 558.7 1116 530.9 1085.1 569.2 Z" fill="#8cc06a"/>
<path d="M1115.3 558.7 1146.2 525.9 1146.9 493.7 1116 530.9 Z" fill="#a9bf61"/>
<path d="M1146.2 525.9 1177.2 494.7 1177.9 458.2 1146.9 493.7 Z" fill="#cebd55"/>
<path d="M1177.2 494.7 1208.1 465.5 1208.8 425 1177.9 458.2 Z" fill="#e5bc4d"/>
<path d="M1208.1 465.5 1239 439.1 1239.7 395 1208.8 425 Z" fill="#f9bb43"/>
<path d="M1239 439.1 1269.9 416.4 1270.6 369.1 1239.7 395 Z" fill="#ffbb3d"/>
<path d="M1269.9 416.4 1300.8 398.3 1301.5 348.2 1270.6 369.1 Z" fill="#ffc02a"/>
<path d="M1300.8 398.3 1331.8 385.6 1332.4 333.5 1301.5 348.2 Z" fill="#ffc51d"/>
<path d="M1331.8 385.6 1362.7 379.4 1363.4 326.1 1332.4 333.5 Z" fill="#ffca0d"/>
<path d="M1362.7 379.4 1393.6 380.6 1394.3 326.9 1363.4 326.1 Z" fill="#ffca0d"/>
<path d="M1393.6 380.6 1424.5 390 1425.2 336.7 1394.3 326.9 Z" fill="#ffca0d"/>
<path d="M1424.5 390 1455.4 408.1 1456.1 356.4 1425.2 336.7 Z" fill="#ffca0d"/>
<path d="M1455.4 408.1 1486.3 435.1 1487 386 1456.1 356.4 Z" fill="#ffc51d"/>
<path d="M1486.3 435.1 1517.2 470.9 1517.9 425.6 1487 386 Z" fill="#ffbc35"/>
<path d="M1517.2 470.9 1548.2 515 1548.9 474.5 1517.9 425.6 Z" fill="#efbb48"/>
<path d="M1548.2 515 1579.1 566.3 1579.8 531.6 1548.9 474.5 Z" fill="#cebd55"/>
<path d="M1579.1 566.3 1610 623.2 1610.7 595.4 1579.8 531.6 Z" fill="#a9bf61"/>
<path d="M1610 623.2 1640.9 684.2 1641.6 663.8 1610.7 595.4 Z" fill="#67c073"/>
<path d="M1640.9 684.2 1671.8 747 1672.5 734.7 1641.6 663.8 Z" fill="#00bf8a"/>
<path d="M1671.8 747 1702.8 809.5 1703.4 805.6 1672.5 734.7 Z" fill="#00b8a4"/>
<path d="M219.4 805.6 250.4 874.1 281.3 938.1 312.2 995.6 343.1 1045.2 374 1085.8 404.9 1117.1 435.9 1138.8 466.8 1151.4 497.7 1155.4 528.6 1151.7 559.5 1141.3 590.4 1125.1 621.4 1104 652.3 1078.9 683.2 1050.6 714.1 1019.8 745 986.9 775.9 952.4 806.9 916.7 837.8 879.9 868.7 842.4 899.6 804.2 930.5 765.5 961.4 726.5 992.4 687.1 1023.3 647.6 1054.2 608.3 1085.1 569.2 1116 530.9 1146.9 493.7 1177.9 458.2 1208.8 425 1239.7 395 1270.6 369.1 1301.5 348.2 1332.4 333.5 1363.4 326.1 1394.3 326.9 1425.2 336.7 1456.1 356.4 1487 386 1517.9 425.6 1548.9 474.5 1579.8 531.6 1610.7 595.4 1641.6 663.8 1672.5 734.7 1703.4 805.6 M218.8 809.5 L219.4 805.6 M249.7 869.6 L250.4 874.1 M280.6 925.5 L281.3 938.1 M311.5 975.3 L312.2 995.6 M342.4 1018.1 L343.1 1045.2 M373.3 1052.8 L374 1085.8 M404.2 1079.1 L404.9 1117.1 M435.2 1097.2 L435.9 1138.8 M466.1 1107.2 L466.8 1151.4 M497 1109.9 L497.7 1155.4 M527.9 1105.9 L528.6 1151.7 M558.8 1096.1 L559.5 1141.3 M589.8 1081.3 L590.4 1125.1 M620.7 1062.5 L621.4 1104 M651.6 1040.2 L652.3 1078.9 M682.5 1015.2 L683.2 1050.6 M713.4 988 L714.1 1019.8 M744.3 959 L745 986.9 M775.2 928.8 L775.9 952.4 M806.2 897.4 L806.9 916.7 M837.1 865.2 L837.8 879.9 M868 832.3 L868.7 842.4 M898.9 798.8 L899.6 804.2 M929.8 764.9 L930.5 765.5 M960.8 730.6 L961.4 726.5 M991.7 696.1 L992.4 687.1 M1022.6 661.4 L1023.3 647.6 M1053.5 626.8 L1054.2 608.3 M1084.4 592.4 L1085.1 569.2 M1115.3 558.7 L1116 530.9 M1146.2 525.9 L1146.9 493.7 M1177.2 494.7 L1177.9 458.2 M1208.1 465.5 L1208.8 425 M1239 439.1 L1239.7 395 M1269.9 416.4 L1270.6 369.1 M1300.8 398.3 L1301.5 348.2 M1331.8 385.6 L1332.4 333.5 M1362.7 379.4 L1363.4 326.1 M1393.6 380.6 L1394.3 326.9 M1424.5 390 L1425.2 336.7 M1455.4 408.1 L1456.1 356.4 M1486.3 435.1 L1487 386 M1517.2 470.9 L1517.9 425.6 M1548.2 515 L1548.9 474.5 M1579.1 566.3 L1579.8 531.6 M1610 623.2 L1610.7 595.4 M1640.9 684.2 L1641.6 663.8 M1671.8 747 L1672.5 734.7 M1702.8 809.5 L1703.4 805.6" fill="none" stroke="#000" stroke-opacity="0.88" stroke-width="3.2"/>
</g>
<g>
<path d="M218.1 811.6 249 860.7 249.7 869.6 218.8 809.5 Z" fill="#00adc0"/>
<path d="M249 860.7 279.9 906 280.6 925.5 249.7 869.6 Z" fill="#00a5cc"/>
<path d="M279.9 906 310.8 946.2 311.5 975.3 280.6 925.5 Z" fill="#009ad4"/>
<path d="M310.8 946.2 341.7 980.2 342.4 1018.1 311.5 975.3 Z" fill="#008ad6"/>
<path d="M341.7 980.2 372.6 1007.6 373.3 1052.8 342.4 1018.1 Z" fill="#0082da"/>
<path d="M372.6 1007.6 403.6 1028.1 404.2 1079.1 373.3 1052.8 Z" fill="#007ade"/>
<path d="M403.6 1028.1 434.5 1041.8 435.2 1097.2 404.2 1079.1 Z" fill="#0076e0"/>
<path d="M434.5 1041.8 465.4 1049 466.1 1107.2 435.2 1097.2 Z" fill="#0072e3"/>
<path d="M465.4 1049 496.3 1050.2 497 1109.9 466.1 1107.2 Z" fill="#006de4"/>
<path d="M496.3 1050.2 527.2 1046.2 527.9 1105.9 497 1109.9 Z" fill="#006de4"/>
<path d="M527.2 1046.2 558.1 1037.5 558.8 1096.1 527.9 1105.9 Z" fill="#0072e3"/>
<path d="M558.1 1037.5 589.1 1024.9 589.8 1081.3 558.8 1096.1 Z" fill="#0072e3"/>
<path d="M589.1 1024.9 620 1009.1 620.7 1062.5 589.8 1081.3 Z" fill="#0076e0"/>
<path d="M620 1009.1 650.9 990.6 651.6 1040.2 620.7 1062.5 Z" fill="#007ade"/>
<path d="M650.9 990.6 681.8 969.9 682.5 1015.2 651.6 1040.2 Z" fill="#007edc"/>
<path d="M681.8 969.9 712.7 947.5 713.4 988 682.5 1015.2 Z" fill="#0086d8"/>
<path d="M712.7 947.5 743.6 923.8 744.3 959 713.4 988 Z" fill="#008ad6"/>
<path d="M743.6 923.8 774.6 899 775.2 928.8 744.3 959 Z" fill="#0095d5"/>
<path d="M774.6 899 805.5 873.4 806.2 897.4 775.2 928.8 Z" fill="#009ed2"/>
<path d="M805.5 873.4 836.4 847.1 837.1 865.2 806.2 897.4 Z" fill="#00a2d0"/>
<path d="M836.4 847.1 867.3 820.2 868 832.3 837.1 865.2 Z" fill="#00a8c9"/>
<path d="M867.3 820.2 898.2 792.8 898.9 798.8 868 832.3 Z" fill="#00adc0"/>
<path d="M898.2 792.8 929.1 765.1 929.8 764.9 898.9 798.8 Z" fill="#00b2b6"/>
<path d="M929.1 765.1 960.1 737 960.8 730.6 929.8 764.9 Z" fill="#00b6aa"/>
<path d="M960.1 737 991 708.7 991.7 696.1 960.8 730.6 Z" fill="#00b8a4"/>
<path d="M991 708.7 1021.9 680.3 1022.6 661.4 991.7 696.1 Z" fill="#00bc98"/>
<path d="M1021.9 680.3 1052.8 651.9 1053.5 626.8 1022.6 661.4 Z" fill="#00bf8a"/>
<path d="M1052.8 651.9 1083.7 623.7 1084.4 592.4 1053.5 626.8 Z" fill="#29c07e"/>
<path d="M1083.7 623.7 1114.6 596 1115.3 558.7 1084.4 592.4 Z" fill="#67c073"/>
<path d="M1114.6 596 1145.6 569.1 1146.2 525.9 1115.3 558.7 Z" fill="#8cc06a"/>
<path d="M1145.6 569.1 1176.5 543.4 1177.2 494.7 1146.2 525.9 Z" fill="#a9bf61"/>
<path d="M1176.5 543.4 1207.4 519.5 1208.1 465.5 1177.2 494.7 Z" fill="#b6be5d"/>
<path d="M1207.4 519.5 1238.3 497.8 1239 439.1 1208.1 465.5 Z" fill="#cebd55"/>
<path d="M1238.3 497.8 1269.2 479.3 1269.9 416.4 1239 439.1 Z" fill="#dabc51"/>
<path d="M1269.2 479.3 1300.1 464.5 1300.8 398.3 1269.9 416.4 Z" fill="#efbb48"/>
<path d="M1300.1 464.5 1331.1 454.4 1331.8 385.6 1300.8 398.3 Z" fill="#f9bb43"/>
<path d="M1331.1 454.4 1362 449.8 1362.7 379.4 1331.8 385.6 Z" fill="#f9bb43"/>
<path d="M1362 449.8 1392.9 451.4 1393.6 380.6 1362.7 379.4 Z" fill="#ffbb3d"/>
<path d="M1392.9 451.4 1423.8 459.8 1424.5 390 1393.6 380.6 Z" fill="#ffbb3d"/>
<path d="M1423.8 459.8 1454.7 475.5 1455.4 408.1 1424.5 390 Z" fill="#f9bb43"/>
<path d="M1454.7 475.5 1485.6 498.7 1486.3 435.1 1455.4 408.1 Z" fill="#efbb48"/>
<path d="M1485.6 498.7 1516.6 529.3 1517.2 470.9 1486.3 435.1 Z" fill="#dabc51"/>
<path d="M1516.6 529.3 1547.5 566.5 1548.2 515 1517.2 470.9 Z" fill="#c3be59"/>
<path d="M1547.5 566.5 1578.4 609.7 1579.1 566.3 1548.2 515 Z" fill="#a9bf61"/>
<path d="M1578.4 609.7 1609.3 657.4 1610 623.2 1579.1 566.3 Z" fill="#7bc06e"/>
<path d="M1609.3 657.4 1640.2 708.1 1640.9 684.2 1610 623.2 Z" fill="#29c07e"/>
<path d="M1640.2 708.1 1671.1 760.1 1671.8 747 1640.9 684.2 Z" fill="#00bc98"/>
<path d="M1671.1 760.1 1702.1 811.6 1702.8 809.5 1671.8 747 Z" fill="#00b6aa"/>
<path d="M218.8 809.5 249.7 869.6 280.6 925.5 311.5 975.3 342.4 1018.1 373.3 1052.8 404.2 1079.1 435.2 1097.2 466.1 1107.2 497 1109.9 527.9 1105.9 558.8 1096.1 589.8 1081.3 620.7 1062.5 651.6 1040.2 682.5 1015.2 713.4 988 744.3 959 775.2 928.8 806.2 897.4 837.1 865.2 868 832.3 898.9 798.8 929.8 764.9 960.8 730.6 991.7 696.1 1022.6 661.4 1053.5 626.8 1084.4 592.4 1115.3 558.7 1146.2 525.9 1177.2 494.7 1208.1 465.5 1239 439.1 1269.9 416.4 1300.8 398.3 1331.8 385.6 1362.7 379.4 1393.6 380.6 1424.5 390 1455.4 408.1 1486.3 435.1 1517.2 470.9 1548.2 515 1579.1 566.3 1610 623.2 1640.9 684.2 1671.8 747 1702.8 809.5 M218.1 811.6 L218.8 809.5 M249 860.7 L249.7 869.6 M279.9 906 L280.6 925.5 M310.8 946.2 L311.5 975.3 M341.7 980.2 L342.4 1018.1 M372.6 1007.6 L373.3 1052.8 M403.6 1028.1 L404.2 1079.1 M434.5 1041.8 L435.2 1097.2 M465.4 1049 L466.1 1107.2 M496.3 1050.2 L497 1109.9 M527.2 1046.2 L527.9 1105.9 M558.1 1037.5 L558.8 1096.1 M589.1 1024.9 L589.8 1081.3 M620 1009.1 L620.7 1062.5 M650.9 990.6 L651.6 1040.2 M681.8 969.9 L682.5 1015.2 M712.7 947.5 L713.4 988 M743.6 923.8 L744.3 959 M774.6 899 L775.2 928.8 M805.5 873.4 L806.2 897.4 M836.4 847.1 L837.1 865.2 M867.3 820.2 L868 832.3 M898.2 792.8 L898.9 798.8 M929.1 765.1 L929.8 764.9 M960.1 737 L960.8 730.6 M991 708.7 L991.7 696.1 M1021.9 680.3 L1022.6 661.4 M1052.8 651.9 L1053.5 626.8 M1083.7 623.7 L1084.4 592.4 M1114.6 596 L1115.3 558.7 M1145.6 569.1 L1146.2 525.9 M1176.5 543.4 L1177.2 494.7 M1207.4 519.5 L1208.1 465.5 M1238.3 497.8 L1239 439.1 M1269.2 479.3 L1269.9 416.4 M1300.1 464.5 L1300.8 398.3 M1331.1 454.4 L1331.8 385.6 M1362 449.8 L1362.7 379.4 M1392.9 451.4 L1393.6 380.6 M1423.8 459.8 L1424.5 390 M1454.7 475.5 L1455.4 408.1 M1485.6 498.7 L1486.3 435.1 M1516.6 529.3 L1517.2 470.9 M1547.5 566.5 L1548.2 515 M1578.4 609.7 L1579.1 566.3 M1609.3 657.4 L1610 623.2 M1640.2 708.1 L1640.9 684.2 M1671.1 760.1 L1671.8 747 M1702.1 811.6 L1702.8 809.5" fill="none" stroke="#000" stroke-opacity="0.88" stroke-width="3.2"/>
</g>
<g>
<path d="M217.4 809.5 248.3 844.9 249 860.7 218.1 811.6 Z" fill="#00b0bb"/>
<path d="M248.3 844.9 279.2 877.3 279.9 906 249 860.7 Z" fill="#00a8c9"/>
<path d="M279.2 877.3 310.1 905.8 310.8 946.2 279.9 906 Z" fill="#00a2d0"/>
<path d="M310.1 905.8 341 929.6 341.7 980.2 310.8 946.2 Z" fill="#009ad4"/>
<path d="M341 929.6 372 948.5 372.6 1007.6 341.7 980.2 Z" fill="#0095d5"/>
<path d="M372 948.5 402.9 962.4 403.6 1028.1 372.6 1007.6 Z" fill="#008ad6"/>
<path d="M402.9 962.4 433.8 971.3 434.5 1041.8 403.6 1028.1 Z" fill="#0086d8"/>
<path d="M433.8 971.3 464.7 975.7 465.4 1049 434.5 1041.8 Z" fill="#0086d8"/>
<path d="M464.7 975.7 495.6 975.8 496.3 1050.2 465.4 1049 Z" fill="#0082da"/>
<path d="M495.6 975.8 526.5 972.2 527.2 1046.2 496.3 1050.2 Z" fill="#0082da"/>
<path d="M526.5 972.2 557.5 965.4 558.1 1037.5 527.2 1046.2 Z" fill="#0086d8"/>
<path d="M557.5 965.4 588.4 955.8 589.1 1024.9 558.1 1037.5 Z" fill="#0086d8"/>
<path d="M588.4 955.8 619.3 944 620 1009.1 589.1 1024.9 Z" fill="#008ad6"/>
<path d="M619.3 944 650.2 930.4 650.9 990.6 620 1009.1 Z" fill="#008fd6"/>
<path d="M650.2 930.4 681.1 915.3 681.8 969.9 650.9 990.6 Z" fill="#008fd6"/>
<path d="M681.1 915.3 712 899 712.7 947.5 681.8 969.9 Z" fill="#0095d5"/>
<path d="M712 899 743 881.7 743.6 923.8 712.7 947.5 Z" fill="#009ed2"/>
<path d="M743 881.7 773.9 863.8 774.6 899 743.6 923.8 Z" fill="#00a2d0"/>
<path d="M773.9 863.8 804.8 845.2 805.5 873.4 774.6 899 Z" fill="#00a5cc"/>
<path d="M804.8 845.2 835.7 826.2 836.4 847.1 805.5 873.4 Z" fill="#00a8c9"/>
<path d="M835.7 826.2 866.6 806.8 867.3 820.2 836.4 847.1 Z" fill="#00abc4"/>
<path d="M866.6 806.8 897.5 787 898.2 792.8 867.3 820.2 Z" fill="#00b0bb"/>
<path d="M897.5 787 928.5 766.9 929.1 765.1 898.2 792.8 Z" fill="#00b2b6"/>
<path d="M928.5 766.9 959.4 746.6 960.1 737 929.1 765.1 Z" fill="#00b4b0"/>
<path d="M959.4 746.6 990.3 726.1 991 708.7 960.1 737 Z" fill="#00b8a4"/>
<path d="M990.3 726.1 1021.2 705.5 1021.9 680.3 991 708.7 Z" fill="#00ba9e"/>
<path d="M1021.2 705.5 1052.1 684.8 1052.8 651.9 1021.9 680.3 Z" fill="#00be91"/>
<path d="M1052.1 684.8 1083 664.3 1083.7 623.7 1052.8 651.9 Z" fill="#00bf8a"/>
<path d="M1083 664.3 1114 644.1 1114.6 596 1083.7 623.7 Z" fill="#00c084"/>
<path d="M1114 644.1 1144.9 624.5 1145.6 569.1 1114.6 596 Z" fill="#4ec078"/>
<path d="M1144.9 624.5 1175.8 605.8 1176.5 543.4 1145.6 569.1 Z" fill="#67c073"/>
<path d="M1175.8 605.8 1206.7 588.4 1207.4 519.5 1176.5 543.4 Z" fill="#7bc06e"/>
<path d="M1206.7 588.4 1237.6 572.7 1238.3 497.8 1207.4 519.5 Z" fill="#8cc06a"/>
<path d="M1237.6 572.7 1268.5 559.2 1269.2 479.3 1238.3 497.8 Z" fill="#9bc065"/>
<path d="M1268.5 559.2 1299.5 548.7 1300.1 464.5 1269.2 479.3 Z" fill="#a9bf61"/>
<path d="M1299.5 548.7 1330.4 541.6 1331.1 454.4 1300.1 464.5 Z" fill="#b6be5d"/>
<path d="M1330.4 541.6 1361.3 538.6 1362 449.8 1331.1 454.4 Z" fill="#c3be59"/>
<path d="M1361.3 538.6 1392.2 540.3 1392.9 451.4 1362 449.8 Z" fill="#c3be59"/>
<path d="M1392.2 540.3 1423.1 547.1 1423.8 459.8 1392.9 451.4 Z" fill="#c3be59"/>
<path d="M1423.1 547.1 1454 559.4 1454.7 475.5 1423.8 459.8 Z" fill="#b6be5d"/>
<path d="M1454 559.4 1485 577.2 1485.6 498.7 1454.7 475.5 Z" fill="#a9bf61"/>
<path d="M1485 577.2 1515.9 600.4 1516.6 529.3 1485.6 498.7 Z" fill="#9bc065"/>
<path d="M1515.9 600.4 1546.8 628.5 1547.5 566.5 1516.6 529.3 Z" fill="#8cc06a"/>
<path d="M1546.8 628.5 1577.7 660.9 1578.4 609.7 1547.5 566.5 Z" fill="#67c073"/>
<path d="M1577.7 660.9 1608.6 696.4 1609.3 657.4 1578.4 609.7 Z" fill="#29c07e"/>
<path d="M1608.6 696.4 1639.5 733.9 1640.2 708.1 1609.3 657.4 Z" fill="#00be91"/>
<path d="M1639.5 733.9 1670.5 772 1671.1 760.1 1640.2 708.1 Z" fill="#00ba9e"/>
<path d="M1670.5 772 1701.4 809.5 1702.1 811.6 1671.1 760.1 Z" fill="#00b4b0"/>
<path d="M218.1 811.6 249 860.7 279.9 906 310.8 946.2 341.7 980.2 372.6 1007.6 403.6 1028.1 434.5 1041.8 465.4 1049 496.3 1050.2 527.2 1046.2 558.1 1037.5 589.1 1024.9 620 1009.1 650.9 990.6 681.8 969.9 712.7 947.5 743.6 923.8 774.6 899 805.5 873.4 836.4 847.1 867.3 820.2 898.2 792.8 929.1 765.1 960.1 737 991 708.7 1021.9 680.3 1052.8 651.9 1083.7 623.7 1114.6 596 1145.6 569.1 1176.5 543.4 1207.4 519.5 1238.3 497.8 1269.2 479.3 1300.1 464.5 1331.1 454.4 1362 449.8 1392.9 451.4 1423.8 459.8 1454.7 475.5 1485.6 498.7 1516.6 529.3 1547.5 566.5 1578.4 609.7 1609.3 657.4 1640.2 708.1 1671.1 760.1 1702.1 811.6 M217.4 809.5 L218.1 811.6 M248.3 844.9 L249 860.7 M279.2 877.3 L279.9 906 M310.1 905.8 L310.8 946.2 M341 929.6 L341.7 980.2 M372 948.5 L372.6 1007.6 M402.9 962.4 L403.6 1028.1 M433.8 971.3 L434.5 1041.8 M464.7 975.7 L465.4 1049 M495.6 975.8 L496.3 1050.2 M526.5 972.2 L527.2 1046.2 M557.5 965.4 L558.1 1037.5 M588.4 955.8 L589.1 1024.9 M619.3 944 L620 1009.1 M650.2 930.4 L650.9 990.6 M681.1 915.3 L681.8 969.9 M712 899 L712.7 947.5 M743 881.7 L743.6 923.8 M773.9 863.8 L774.6 899 M804.8 845.2 L805.5 873.4 M835.7 826.2 L836.4 847.1 M866.6 806.8 L867.3 820.2 M897.5 787 L898.2 792.8 M928.5 766.9 L929.1 765.1 M959.4 746.6 L960.1 737 M990.3 726.1 L991 708.7 M1021.2 705.5 L1021.9 680.3 M1052.1 684.8 L1052.8 651.9 M1083 664.3 L1083.7 623.7 M1114 644.1 L1114.6 596 M1144.9 624.5 L1145.6 569.1 M1175.8 605.8 L1176.5 543.4 M1206.7 588.4 L1207.4 519.5 M1237.6 572.7 L1238.3 497.8 M1268.5 559.2 L1269.2 479.3 M1299.5 548.7 L1300.1 464.5 M1330.4 541.6 L1331.1 454.4 M1361.3 538.6 L1362 449.8 M1392.2 540.3 L1392.9 451.4 M1423.1 547.1 L1423.8 459.8 M1454 559.4 L1454.7 475.5 M1485 577.2 L1485.6 498.7 M1515.9 600.4 L1516.6 529.3 M1546.8 628.5 L1547.5 566.5 M1577.7 660.9 L1578.4 609.7 M1608.6 696.4 L1609.3 657.4 M1639.5 733.9 L1640.2 708.1 M1670.5 772 L1671.1 760.1 M1701.4 809.5 L1702.1 811.6" fill="none" stroke="#000" stroke-opacity="0.88" stroke-width="3.2"/>
</g>
<g>
<path d="M216.7 800.1 247.6 819.1 248.3 844.9 217.4 809.5 Z" fill="#00b0bb"/>
<path d="M247.6 819.1 278.5 836.4 279.2 877.3 248.3 844.9 Z" fill="#00adc0"/>
<path d="M278.5 836.4 309.4 851.3 310.1 905.8 279.2 877.3 Z" fill="#00abc4"/>
<path d="M309.4 851.3 340.4 863.7 341 929.6 310.1 905.8 Z" fill="#00a8c9"/>
<path d="M340.4 863.7 371.3 873.3 372 948.5 341 929.6 Z" fill="#00a5cc"/>
<path d="M371.3 873.3 402.2 880.2 402.9 962.4 372 948.5 Z" fill="#00a2d0"/>
<path d="M402.2 880.2 433.1 884.4 433.8 971.3 402.9 962.4 Z" fill="#00a2d0"/>
<path d="M433.1 884.4 464 886.2 464.7 975.7 433.8 971.3 Z" fill="#00a2d0"/>
<path d="M464 886.2 494.9 885.8 495.6 975.8 464.7 975.7 Z" fill="#009ed2"/>
<path d="M494.9 885.8 525.9 883.4 526.5 972.2 495.6 975.8 Z" fill="#009ed2"/>
<path d="M525.9 883.4 556.8 879.4 557.5 965.4 526.5 972.2 Z" fill="#00a2d0"/>
<path d="M556.8 879.4 587.7 874 588.4 955.8 557.5 965.4 Z" fill="#00a2d0"/>
<path d="M587.7 874 618.6 867.4 619.3 944 588.4 955.8 Z" fill="#00a2d0"/>
<path d="M618.6 867.4 649.5 859.9 650.2 930.4 619.3 944 Z" fill="#00a5cc"/>
<path d="M649.5 859.9 680.4 851.6 681.1 915.3 650.2 930.4 Z" fill="#00a5cc"/>
<path d="M680.4 851.6 711.4 842.7 712 899 681.1 915.3 Z" fill="#00a8c9"/>
<path d="M711.4 842.7 742.3 833.4 743 881.7 712 899 Z" fill="#00a8c9"/>
<path d="M742.3 833.4 773.2 823.7 773.9 863.8 743 881.7 Z" fill="#00abc4"/>
<path d="M773.2 823.7 804.1 813.7 804.8 845.2 773.9 863.8 Z" fill="#00adc0"/>
<path d="M804.1 813.7 835 803.4 835.7 826.2 804.8 845.2 Z" fill="#00adc0"/>
<path d="M835 803.4 865.9 792.9 866.6 806.8 835.7 826.2 Z" fill="#00b0bb"/>
<path d="M865.9 792.9 896.9 782.2 897.5 787 866.6 806.8 Z" fill="#00b2b6"/>
<path d="M896.9 782.2 927.8 771.3 928.5 766.9 897.5 787 Z" fill="#00b2b6"/>
<path d="M927.8 771.3 958.7 760.3 959.4 746.6 928.5 766.9 Z" fill="#00b4b0"/>
<path d="M958.7 760.3 989.6 749.2 990.3 726.1 959.4 746.6 Z" fill="#00b6aa"/>
<path d="M989.6 749.2 1020.5 738 1021.2 705.5 990.3 726.1 Z" fill="#00b8a4"/>
<path d="M1020.5 738 1051.4 726.8 1052.1 684.8 1021.2 705.5 Z" fill="#00b8a4"/>
<path d="M1051.4 726.8 1082.4 715.6 1083 664.3 1052.1 684.8 Z" fill="#00ba9e"/>
<path d="M1082.4 715.6 1113.3 704.6 1114 644.1 1083 664.3 Z" fill="#00bc98"/>
<path d="M1113.3 704.6 1144.2 693.9 1144.9 624.5 1114 644.1 Z" fill="#00be91"/>
<path d="M1144.2 693.9 1175.1 683.7 1175.8 605.8 1144.9 624.5 Z" fill="#00be91"/>
<path d="M1175.1 683.7 1206 674.2 1206.7 588.4 1175.8 605.8 Z" fill="#00bf8a"/>
<path d="M1206 674.2 1236.9 665.7 1237.6 572.7 1206.7 588.4 Z" fill="#00c084"/>
<path d="M1236.9 665.7 1267.9 658.4 1268.5 559.2 1237.6 572.7 Z" fill="#00c084"/>
<path d="M1267.9 658.4 1298.8 652.8 1299.5 548.7 1268.5 559.2 Z" fill="#29c07e"/>
<path d="M1298.8 652.8 1329.7 649.1 1330.4 541.6 1299.5 548.7 Z" fill="#29c07e"/>
<path d="M1329.7 649.1 1360.6 647.7 1361.3 538.6 1330.4 541.6 Z" fill="#29c07e"/>
<path d="M1360.6 647.7 1391.5 649 1392.2 540.3 1361.3 538.6 Z" fill="#29c07e"/>
<path d="M1391.5 649 1422.4 653.2 1423.1 547.1 1392.2 540.3 Z" fill="#29c07e"/>
<path d="M1422.4 653.2 1453.4 660.4 1454 559.4 1423.1 547.1 Z" fill="#29c07e"/>
<path d="M1453.4 660.4 1484.3 670.8 1485 577.2 1454 559.4 Z" fill="#29c07e"/>
<path d="M1484.3 670.8 1515.2 684.1 1515.9 600.4 1485 577.2 Z" fill="#00c084"/>
<path d="M1515.2 684.1 1546.1 700 1546.8 628.5 1515.9 600.4 Z" fill="#00bf8a"/>
<path d="M1546.1 700 1577 718.2 1577.7 660.9 1546.8 628.5 Z" fill="#00be91"/>
<path d="M1577 718.2 1607.9 738 1608.6 696.4 1577.7 660.9 Z" fill="#00bc98"/>
<path d="M1607.9 738 1638.9 758.8 1639.5 733.9 1608.6 696.4 Z" fill="#00b8a4"/>
<path d="M1638.9 758.8 1669.8 779.7 1670.5 772 1639.5 733.9 Z" fill="#00b6aa"/>
<path d="M1669.8 779.7 1700.7 800.1 1701.4 809.5 1670.5 772 Z" fill="#00b4b0"/>
<path d="M217.4 809.5 248.3 844.9 279.2 877.3 310.1 905.8 341 929.6 372 948.5 402.9 962.4 433.8 971.3 464.7 975.7 495.6 975.8 526.5 972.2 557.5 965.4 588.4 955.8 619.3 944 650.2 930.4 681.1 915.3 712 899 743 881.7 773.9 863.8 804.8 845.2 835.7 826.2 866.6 806.8 897.5 787 928.5 766.9 959.4 746.6 990.3 726.1 1021.2 705.5 1052.1 684.8 1083 664.3 1114 644.1 1144.9 624.5 1175.8 605.8 1206.7 588.4 1237.6 572.7 1268.5 559.2 1299.5 548.7 1330.4 541.6 1361.3 538.6 1392.2 540.3 1423.1 547.1 1454 559.4 1485 577.2 1515.9 600.4 1546.8 628.5 1577.7 660.9 1608.6 696.4 1639.5 733.9 1670.5 772 1701.4 809.5 M216.7 800.1 L217.4 809.5 M247.6 819.1 L248.3 844.9 M278.5 836.4 L279.2 877.3 M309.4 851.3 L310.1 905.8 M340.4 863.7 L341 929.6 M371.3 873.3 L372 948.5 M402.2 880.2 L402.9 962.4 M433.1 884.4 L433.8 971.3 M464 886.2 L464.7 975.7 M494.9 885.8 L495.6 975.8 M525.9 883.4 L526.5 972.2 M556.8 879.4 L557.5 965.4 M587.7 874 L588.4 955.8 M618.6 867.4 L619.3 944 M649.5 859.9 L650.2 930.4 M680.4 851.6 L681.1 915.3 M711.4 842.7 L712 899 M742.3 833.4 L743 881.7 M773.2 823.7 L773.9 863.8 M804.1 813.7 L804.8 845.2 M835 803.4 L835.7 826.2 M865.9 792.9 L866.6 806.8 M896.9 782.2 L897.5 787 M927.8 771.3 L928.5 766.9 M958.7 760.3 L959.4 746.6 M989.6 749.2 L990.3 726.1 M1020.5 738 L1021.2 705.5 M1051.4 726.8 L1052.1 684.8 M1082.4 715.6 L1083 664.3 M1113.3 704.6 L1114 644.1 M1144.2 693.9 L1144.9 624.5 M1175.1 683.7 L1175.8 605.8 M1206 674.2 L1206.7 588.4 M1236.9 665.7 L1237.6 572.7 M1267.9 658.4 L1268.5 559.2 M1298.8 652.8 L1299.5 548.7 M1329.7 649.1 L1330.4 541.6 M1360.6 647.7 L1361.3 538.6 M1391.5 649 L1392.2 540.3 M1422.4 653.2 L1423.1 547.1 M1453.4 660.4 L1454 559.4 M1484.3 670.8 L1485 577.2 M1515.2 684.1 L1515.9 600.4 M1546.1 700 L1546.8 628.5 M1577 718.2 L1577.7 660.9 M1607.9 738 L1608.6 696.4 M1638.9 758.8 L1639.5 733.9 M1669.8 779.7 L1670.5 772 M1700.7 800.1 L1701.4 809.5" fill="none" stroke="#000" stroke-opacity="0.88" stroke-width="3.2"/>
</g>
<g>
<path d="M216 780.9 246.9 780.9 247.6 819.1 216.7 800.1 Z" fill="#00b4b0"/>
<path d="M246.9 780.9 277.8 780.9 278.5 836.4 247.6 819.1 Z" fill="#00b4b0"/>
<path d="M277.8 780.9 308.8 780.9 309.4 851.3 278.5 836.4 Z" fill="#00b4b0"/>
<path d="M308.8 780.9 339.7 780.9 340.4 863.7 309.4 851.3 Z" fill="#00b4b0"/>
<path d="M339.7 780.9 370.6 780.9 371.3 873.3 340.4 863.7 Z" fill="#00b4b0"/>
<path d="M370.6 780.9 401.5 780.9 402.2 880.2 371.3 873.3 Z" fill="#00b4b0"/>
<path d="M401.5 780.9 432.4 780.9 433.1 884.4 402.2 880.2 Z" fill="#00b4b0"/>
<path d="M432.4 780.9 463.3 780.9 464 886.2 433.1 884.4 Z" fill="#00b4b0"/>
<path d="M463.3 780.9 494.2 780.9 494.9 885.8 464 886.2 Z" fill="#00b4b0"/>
<path d="M494.2 780.9 525.2 780.9 525.9 883.4 494.9 885.8 Z" fill="#00b4b0"/>
<path d="M525.2 780.9 556.1 780.9 556.8 879.4 525.9 883.4 Z" fill="#00b4b0"/>
<path d="M556.1 780.9 587 780.9 587.7 874 556.8 879.4 Z" fill="#00b4b0"/>
<path d="M587 780.9 617.9 780.9 618.6 867.4 587.7 874 Z" fill="#00b4b0"/>
<path d="M617.9 780.9 648.8 780.9 649.5 859.9 618.6 867.4 Z" fill="#00b4b0"/>
<path d="M648.8 780.9 679.8 780.9 680.4 851.6 649.5 859.9 Z" fill="#00b4b0"/>
<path d="M679.8 780.9 710.7 780.9 711.4 842.7 680.4 851.6 Z" fill="#00b4b0"/>
<path d="M710.7 780.9 741.6 780.9 742.3 833.4 711.4 842.7 Z" fill="#00b4b0"/>
<path d="M741.6 780.9 772.5 780.9 773.2 823.7 742.3 833.4 Z" fill="#00b4b0"/>
<path d="M772.5 780.9 803.4 780.9 804.1 813.7 773.2 823.7 Z" fill="#00b4b0"/>
<path d="M803.4 780.9 834.3 780.9 835 803.4 804.1 813.7 Z" fill="#00b4b0"/>
<path d="M834.3 780.9 865.2 780.9 865.9 792.9 835 803.4 Z" fill="#00b4b0"/>
<path d="M865.2 780.9 896.2 780.9 896.9 782.2 865.9 792.9 Z" fill="#00b4b0"/>
<path d="M896.2 780.9 927.1 780.9 927.8 771.3 896.9 782.2 Z" fill="#00b4b0"/>
<path d="M927.1 780.9 958 780.9 958.7 760.3 927.8 771.3 Z" fill="#00b4b0"/>
<path d="M958 780.9 988.9 780.9 989.6 749.2 958.7 760.3 Z" fill="#00b4b0"/>
<path d="M988.9 780.9 1019.8 780.9 1020.5 738 989.6 749.2 Z" fill="#00b4b0"/>
<path d="M1019.8 780.9 1050.8 780.9 1051.4 726.8 1020.5 738 Z" fill="#00b4b0"/>
<path d="M1050.8 780.9 1081.7 780.9 1082.4 715.6 1051.4 726.8 Z" fill="#00b4b0"/>
<path d="M1081.7 780.9 1112.6 780.9 1113.3 704.6 1082.4 715.6 Z" fill="#00b4b0"/>
<path d="M1112.6 780.9 1143.5 780.9 1144.2 693.9 1113.3 704.6 Z" fill="#00b4b0"/>
<path d="M1143.5 780.9 1174.4 780.9 1175.1 683.7 1144.2 693.9 Z" fill="#00b4b0"/>
<path d="M1174.4 780.9 1205.3 780.9 1206 674.2 1175.1 683.7 Z" fill="#00b4b0"/>
<path d="M1205.3 780.9 1236.2 780.9 1236.9 665.7 1206 674.2 Z" fill="#00b4b0"/>
<path d="M1236.2 780.9 1267.2 780.9 1267.9 658.4 1236.9 665.7 Z" fill="#00b4b0"/>
<path d="M1267.2 780.9 1298.1 780.9 1298.8 652.8 1267.9 658.4 Z" fill="#00b4b0"/>
<path d="M1298.1 780.9 1329 780.9 1329.7 649.1 1298.8 652.8 Z" fill="#00b4b0"/>
<path d="M1329 780.9 1359.9 780.9 1360.6 647.7 1329.7 649.1 Z" fill="#00b4b0"/>
<path d="M1359.9 780.9 1390.8 780.9 1391.5 649 1360.6 647.7 Z" fill="#00b4b0"/>
<path d="M1390.8 780.9 1421.8 780.9 1422.4 653.2 1391.5 649 Z" fill="#00b4b0"/>
<path d="M1421.8 780.9 1452.7 780.9 1453.4 660.4 1422.4 653.2 Z" fill="#00b4b0"/>
<path d="M1452.7 780.9 1483.6 780.9 1484.3 670.8 1453.4 660.4 Z" fill="#00b4b0"/>
<path d="M1483.6 780.9 1514.5 780.9 1515.2 684.1 1484.3 670.8 Z" fill="#00b4b0"/>
<path d="M1514.5 780.9 1545.4 780.9 1546.1 700 1515.2 684.1 Z" fill="#00b4b0"/>
<path d="M1545.4 780.9 1576.3 780.9 1577 718.2 1546.1 700 Z" fill="#00b4b0"/>
<path d="M1576.3 780.9 1607.2 780.9 1607.9 738 1577 718.2 Z" fill="#00b4b0"/>
<path d="M1607.2 780.9 1638.2 780.9 1638.9 758.8 1607.9 738 Z" fill="#00b4b0"/>
<path d="M1638.2 780.9 1669.1 780.9 1669.8 779.7 1638.9 758.8 Z" fill="#00b4b0"/>
<path d="M1669.1 780.9 1700 780.9 1700.7 800.1 1669.8 779.7 Z" fill="#00b4b0"/>
<path d="M216.7 800.1 247.6 819.1 278.5 836.4 309.4 851.3 340.4 863.7 371.3 873.3 402.2 880.2 433.1 884.4 464 886.2 494.9 885.8 525.9 883.4 556.8 879.4 587.7 874 618.6 867.4 649.5 859.9 680.4 851.6 711.4 842.7 742.3 833.4 773.2 823.7 804.1 813.7 835 803.4 865.9 792.9 896.9 782.2 927.8 771.3 958.7 760.3 989.6 749.2 1020.5 738 1051.4 726.8 1082.4 715.6 1113.3 704.6 1144.2 693.9 1175.1 683.7 1206 674.2 1236.9 665.7 1267.9 658.4 1298.8 652.8 1329.7 649.1 1360.6 647.7 1391.5 649 1422.4 653.2 1453.4 660.4 1484.3 670.8 1515.2 684.1 1546.1 700 1577 718.2 1607.9 738 1638.9 758.8 1669.8 779.7 1700.7 800.1 M216 780.9 L216.7 800.1 M246.9 780.9 L247.6 819.1 M277.8 780.9 L278.5 836.4 M308.8 780.9 L309.4 851.3 M339.7 780.9 L340.4 863.7 M370.6 780.9 L371.3 873.3 M401.5 780.9 L402.2 880.2 M432.4 780.9 L433.1 884.4 M463.3 780.9 L464 886.2 M494.2 780.9 L494.9 885.8 M525.2 780.9 L525.9 883.4 M556.1 780.9 L556.8 879.4 M587 780.9 L587.7 874 M617.9 780.9 L618.6 867.4 M648.8 780.9 L649.5 859.9 M679.8 780.9 L680.4 851.6 M710.7 780.9 L711.4 842.7 M741.6 780.9 L742.3 833.4 M772.5 780.9 L773.2 823.7 M803.4 780.9 L804.1 813.7 M834.3 780.9 L835 803.4 M865.2 780.9 L865.9 792.9 M896.2 780.9 L896.9 782.2 M927.1 780.9 L927.8 771.3 M958 780.9 L958.7 760.3 M988.9 780.9 L989.6 749.2 M1019.8 780.9 L1020.5 738 M1050.8 780.9 L1051.4 726.8 M1081.7 780.9 L1082.4 715.6 M1112.6 780.9 L1113.3 704.6 M1143.5 780.9 L1144.2 693.9 M1174.4 780.9 L1175.1 683.7 M1205.3 780.9 L1206 674.2 M1236.2 780.9 L1236.9 665.7 M1267.2 780.9 L1267.9 658.4 M1298.1 780.9 L1298.8 652.8 M1329 780.9 L1329.7 649.1 M1359.9 780.9 L1360.6 647.7 M1390.8 780.9 L1391.5 649 M1421.8 780.9 L1422.4 653.2 M1452.7 780.9 L1453.4 660.4 M1483.6 780.9 L1484.3 670.8 M1514.5 780.9 L1515.2 684.1 M1545.4 780.9 L1546.1 700 M1576.3 780.9 L1577 718.2 M1607.2 780.9 L1607.9 738 M1638.2 780.9 L1638.9 758.8 M1669.1 780.9 L1669.8 779.7 M1700 780.9 L1700.7 800.1 M216 780.9 246.9 780.9 277.8 780.9 308.8 780.9 339.7 780.9 370.6 780.9 401.5 780.9 432.4 780.9 463.3 780.9 494.2 780.9 525.2 780.9 556.1 780.9 587 780.9 617.9 780.9 648.8 780.9 679.8 780.9 710.7 780.9 741.6 780.9 772.5 780.9 803.4 780.9 834.3 780.9 865.2 780.9 896.2 780.9 927.1 780.9 958 780.9 988.9 780.9 1019.8 780.9 1050.8 780.9 1081.7 780.9 1112.6 780.9 1143.5 780.9 1174.4 780.9 1205.3 780.9 1236.2 780.9 1267.2 780.9 1298.1 780.9 1329 780.9 1359.9 780.9 1390.8 780.9 1421.8 780.9 1452.7 780.9 1483.6 780.9 1514.5 780.9 1545.4 780.9 1576.3 780.9 1607.2 780.9 1638.2 780.9 1669.1 780.9 1700 780.9" fill="none" stroke="#000" stroke-opacity="0.88" stroke-width="3.2"/>
</g>
</g>
<g id="axes">
<rect x="213.3" y="148" width="2.8" height="1068.3" fill="#1c1c1c"/>
<rect x="213.3" y="1213" width="1502" height="3.3" fill="#1c1c1c"/>
<rect x="178.6" y="146.1" width="34.7" height="6.0" fill="#969696"/>
<rect x="178.6" y="264.3" width="34.7" height="3.4" fill="#666"/>
<rect x="178.6" y="267.7" width="34.7" height="3.0" fill="#b4b4b4"/>
<rect x="178.6" y="383.0" width="34.7" height="3.4" fill="#585858"/>
<rect x="178.6" y="386.4" width="34.7" height="2.8" fill="#c4c4c4"/>
<rect x="178.6" y="501.9" width="34.7" height="3.3" fill="#3a3a3a"/>
<rect x="178.6" y="620.1" width="34.7" height="3.3" fill="#2e2e2e"/>
<rect x="178.6" y="738.7" width="34.7" height="3.3" fill="#2e2e2e"/>
<rect x="178.6" y="857.4" width="34.7" height="3.3" fill="#444"/>
<rect x="178.6" y="974.9" width="34.7" height="3.4" fill="#666"/>
<rect x="178.6" y="978.3" width="34.7" height="2.6" fill="#c8c8c8"/>
<rect x="178.6" y="1092.3" width="34.7" height="5.2" fill="#8a8a8a"/>
<rect x="178.6" y="1210.3" width="34.7" height="6.0" fill="#969696"/>
<rect x="213.4" y="1216" width="5.4" height="34.6" fill="#8e8e8e"/>
<rect x="584.3" y="1216" width="3.0" height="34.6" fill="#666"/>
<rect x="587.3" y="1216" width="2.6" height="34.6" fill="#8a8a8a"/>
<rect x="955.3" y="1216" width="4.4" height="34.6" fill="#3a3a3a"/>
<rect x="1325.6" y="1216" width="5.3" height="34.6" fill="#7a7a7a"/>
<rect x="1697.3" y="1216" width="2.8" height="34.6" fill="#777"/>
<rect x="1700.1" y="1216" width="2.8" height="34.6" fill="#aaa"/>
</g>
<g id="ylabels" font-size="41.0" text-anchor="end">
<text x="161.0" y="1231.4">0.94</text>
<text x="161.0" y="1112.6">0.96</text>
<text x="161.0" y="993.9">0.98</text>
<text x="159.0" y="875.5">1</text>
<text x="161.0" y="757.0">1.02</text>
<text x="161.0" y="641.2">1.04</text>
<text x="161.0" y="523.1">1.06</text>
<text x="161.0" y="404.4">1.08</text>
<text x="159.0" y="286.0">1.1</text>
<text x="161.0" y="167.5">1.12</text>
</g>
<g id="xlabels" font-size="41.0" text-anchor="middle">
<text x="214.6" y="1309.6">0</text>
<text x="588.0" y="1309.6">90</text>
<text x="955.6" y="1309.6">180</text>
<text x="1326.2" y="1309.6">270</text>
<text x="1698.6" y="1309.6">360</text>
</g>
<text x="115.5" y="69" font-size="45" fill="#707070">×</text><text x="146.6" y="63.8" font-size="41.0">10</text><text x="194.2" y="45" font-size="33.5">5</text>
<text x="997.3" y="1368.8" font-size="46" text-anchor="middle" letter-spacing="1.45">TETA [deg]</text>
<text transform="translate(56 680.6) rotate(-90)" font-size="46" text-anchor="middle" letter-spacing="0.7">P [Pa]</text>
<g id="cbar">
<rect x="1839.0" y="1206.13" width="90.5" height="15.27" fill="#36268b"/>
<rect x="1839.0" y="1191.45" width="90.5" height="15.27" fill="#352d97"/>
<rect x="1839.0" y="1176.78" width="90.5" height="15.27" fill="#3333a4"/>
<rect x="1839.0" y="1162.11" width="90.5" height="15.27" fill="#2e3ab1"/>
<rect x="1839.0" y="1147.43" width="90.5" height="15.27" fill="#2442be"/>
<rect x="1839.0" y="1132.76" width="90.5" height="15.27" fill="#0749cb"/>
<rect x="1839.0" y="1118.09" width="90.5" height="15.27" fill="#0052d8"/>
<rect x="1839.0" y="1103.41" width="90.5" height="15.27" fill="#005be2"/>
<rect x="1839.0" y="1088.74" width="90.5" height="15.27" fill="#0063e5"/>
<rect x="1839.0" y="1074.07" width="90.5" height="15.27" fill="#0068e5"/>
<rect x="1839.0" y="1059.39" width="90.5" height="15.27" fill="#006de4"/>
<rect x="1839.0" y="1044.72" width="90.5" height="15.27" fill="#0072e3"/>
<rect x="1839.0" y="1030.05" width="90.5" height="15.27" fill="#0076e0"/>
<rect x="1839.0" y="1015.37" width="90.5" height="15.27" fill="#007ade"/>
<rect x="1839.0" y="1000.70" width="90.5" height="15.27" fill="#007edc"/>
<rect x="1839.0" y="986.02" width="90.5" height="15.27" fill="#0082da"/>
<rect x="1839.0" y="971.35" width="90.5" height="15.27" fill="#0086d8"/>
<rect x="1839.0" y="956.68" width="90.5" height="15.27" fill="#008ad6"/>
<rect x="1839.0" y="942.00" width="90.5" height="15.27" fill="#008fd6"/>
<rect x="1839.0" y="927.33" width="90.5" height="15.27" fill="#0095d5"/>
<rect x="1839.0" y="912.66" width="90.5" height="15.27" fill="#009ad4"/>
<rect x="1839.0" y="897.98" width="90.5" height="15.27" fill="#009ed2"/>
<rect x="1839.0" y="883.31" width="90.5" height="15.27" fill="#00a2d0"/>
<rect x="1839.0" y="868.64" width="90.5" height="15.27" fill="#00a5cc"/>
<rect x="1839.0" y="853.96" width="90.5" height="15.27" fill="#00a8c9"/>
<rect x="1839.0" y="839.29" width="90.5" height="15.27" fill="#00abc4"/>
<rect x="1839.0" y="824.62" width="90.5" height="15.27" fill="#00adc0"/>
<rect x="1839.0" y="809.94" width="90.5" height="15.27" fill="#00b0bb"/>
<rect x="1839.0" y="795.27" width="90.5" height="15.27" fill="#00b2b6"/>
<rect x="1839.0" y="780.60" width="90.5" height="15.27" fill="#00b4b0"/>
<rect x="1839.0" y="765.92" width="90.5" height="15.27" fill="#00b6aa"/>
<rect x="1839.0" y="751.25" width="90.5" height="15.27" fill="#00b8a4"/>
<rect x="1839.0" y="736.58" width="90.5" height="15.27" fill="#00ba9e"/>
<rect x="1839.0" y="721.90" width="90.5" height="15.27" fill="#00bc98"/>
<rect x="1839.0" y="707.23" width="90.5" height="15.27" fill="#00be91"/>
<rect x="1839.0" y="692.56" width="90.5" height="15.27" fill="#00bf8a"/>
<rect x="1839.0" y="677.88" width="90.5" height="15.27" fill="#00c084"/>
<rect x="1839.0" y="663.21" width="90.5" height="15.27" fill="#29c07e"/>
<rect x="1839.0" y="648.54" width="90.5" height="15.27" fill="#4ec078"/>
<rect x="1839.0" y="633.86" width="90.5" height="15.27" fill="#67c073"/>
<rect x="1839.0" y="619.19" width="90.5" height="15.27" fill="#7bc06e"/>
<rect x="1839.0" y="604.52" width="90.5" height="15.27" fill="#8cc06a"/>
<rect x="1839.0" y="589.84" width="90.5" height="15.27" fill="#9bc065"/>
<rect x="1839.0" y="575.17" width="90.5" height="15.27" fill="#a9bf61"/>
<rect x="1839.0" y="560.50" width="90.5" height="15.27" fill="#b6be5d"/>
<rect x="1839.0" y="545.82" width="90.5" height="15.27" fill="#c3be59"/>
<rect x="1839.0" y="531.15" width="90.5" height="15.27" fill="#cebd55"/>
<rect x="1839.0" y="516.48" width="90.5" height="15.27" fill="#dabc51"/>
<rect x="1839.0" y="501.80" width="90.5" height="15.27" fill="#e5bc4d"/>
<rect x="1839.0" y="487.13" width="90.5" height="15.27" fill="#efbb48"/>
<rect x="1839.0" y="472.45" width="90.5" height="15.27" fill="#f9bb43"/>
<rect x="1839.0" y="457.78" width="90.5" height="15.27" fill="#ffbb3d"/>
<rect x="1839.0" y="443.11" width="90.5" height="15.27" fill="#ffbc35"/>
<rect x="1839.0" y="428.43" width="90.5" height="15.27" fill="#ffc02a"/>
<rect x="1839.0" y="413.76" width="90.5" height="15.27" fill="#ffc51d"/>
<rect x="1839.0" y="399.09" width="90.5" height="15.27" fill="#ffca0d"/>
<rect x="1839.0" y="384.41" width="90.5" height="15.27" fill="#ffcf00"/>
<rect x="1839.0" y="369.74" width="90.5" height="15.27" fill="#ffd400"/>
<rect x="1839.0" y="355.07" width="90.5" height="15.27" fill="#ffd900"/>
<rect x="1839.0" y="340.39" width="90.5" height="15.27" fill="#fedf00"/>
<rect x="1839.0" y="325.72" width="90.5" height="15.27" fill="#fbe500"/>
<rect x="1839.0" y="311.05" width="90.5" height="15.27" fill="#f9ec00"/>
<rect x="1839.0" y="296.37" width="90.5" height="15.27" fill="#f8f300"/>
<rect x="1839.0" y="281.70" width="90.5" height="15.27" fill="#f8fb00"/>
<rect x="1839.0" y="282.0" width="90.5" height="939.1" fill="none" stroke="#1c1c1c" stroke-width="3"/>
<rect x="1916.5" y="1160.3" width="12" height="3.2" fill="#1c1c1c"/>
<text x="1943.7" y="1178.4" font-size="36.6">0.95</text>
<rect x="1916.5" y="1013.6" width="12" height="3.2" fill="#1c1c1c"/>
<text x="1943.7" y="1031.3" font-size="36.6">0.975</text>
<rect x="1916.5" y="869.9" width="12" height="3.2" fill="#1c1c1c"/>
<text x="1944.6" y="884.9" font-size="36.6">1</text>
<rect x="1916.5" y="723.1" width="12" height="3.2" fill="#1c1c1c"/>
<text x="1944.6" y="741.5" font-size="36.6">1.025</text>
<rect x="1916.5" y="579.8" width="12" height="3.2" fill="#1c1c1c"/>
<text x="1944.6" y="594.6" font-size="36.6">1.05</text>
<rect x="1916.5" y="432.8" width="12" height="3.2" fill="#1c1c1c"/>
<text x="1944.6" y="451.2" font-size="36.6">1.075</text>
<rect x="1916.5" y="289.5" width="12" height="3.2" fill="#1c1c1c"/>
<text x="1944.6" y="304.2" font-size="36.6">1.1</text>
<text x="1930" y="265.6" font-size="42" fill="#707070">×</text><text x="1959.5" y="260.8" font-size="36.6">10</text><text x="2002.6" y="240.8" font-size="28.6">5</text>
</g>
</svg></body></html>
